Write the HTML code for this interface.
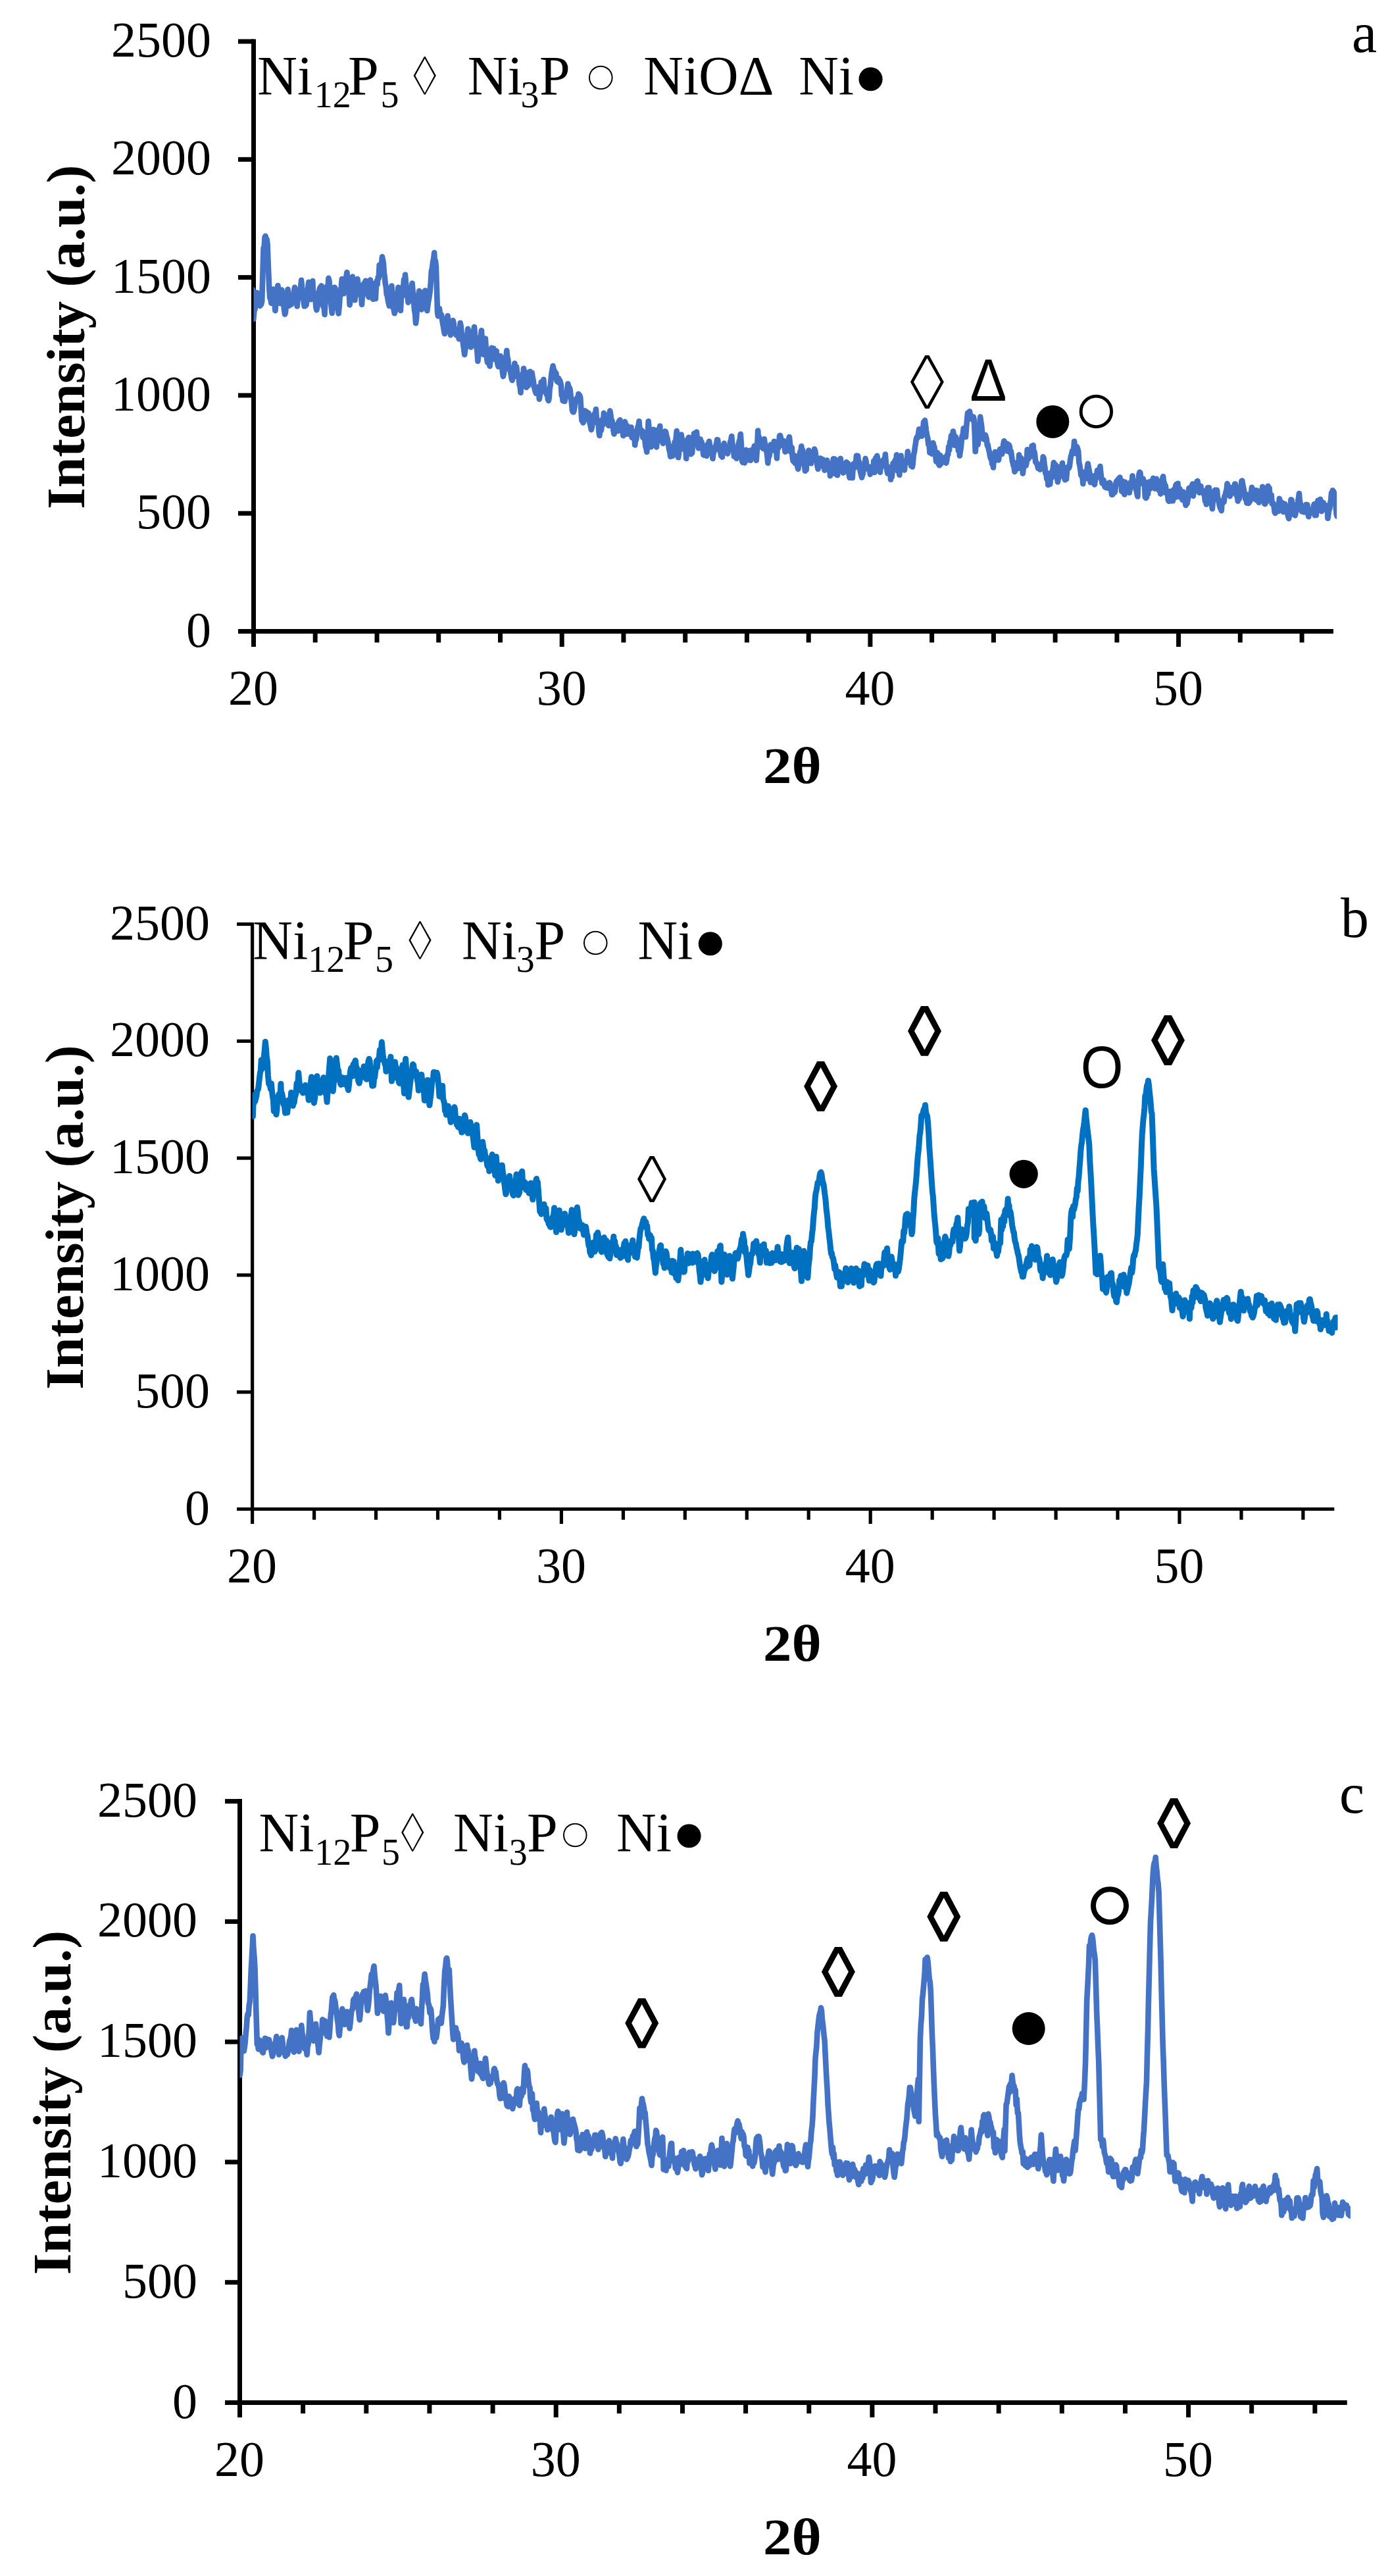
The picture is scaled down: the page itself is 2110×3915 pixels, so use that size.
<!DOCTYPE html>
<html lang="en"><head><meta charset="utf-8"><title>XRD patterns</title>
<style>
html,body{margin:0;padding:0;background:#fff}
svg{display:block}
text{font-family:"Liberation Serif","DejaVu Serif",serif;fill:#000}
.sans{font-family:"Liberation Sans","DejaVu Sans",sans-serif}
</style></head><body>
<svg width="2110" height="3915" viewBox="0 0 2110 3915">
<rect width="2110" height="3915" fill="#fff"/>

<g id="chart-a">
<g stroke="#000" stroke-width="7.0" fill="none">
<line x1="385.5" y1="59.5" x2="385.5" y2="983"/>
<line x1="362" y1="959.5" x2="2027" y2="959.5"/>
<line x1="362" y1="780.2" x2="385.5" y2="780.2"/>
<line x1="362" y1="600.9" x2="385.5" y2="600.9"/>
<line x1="362" y1="421.6" x2="385.5" y2="421.6"/>
<line x1="362" y1="242.3" x2="385.5" y2="242.3"/>
<line x1="362" y1="63" x2="385.5" y2="63"/>
<line x1="479.2" y1="959.5" x2="479.2" y2="976.5"/>
<line x1="573" y1="959.5" x2="573" y2="976.5"/>
<line x1="666.7" y1="959.5" x2="666.7" y2="976.5"/>
<line x1="760.5" y1="959.5" x2="760.5" y2="976.5"/>
<line x1="854.2" y1="959.5" x2="854.2" y2="983"/>
<line x1="947.9" y1="959.5" x2="947.9" y2="976.5"/>
<line x1="1041.7" y1="959.5" x2="1041.7" y2="976.5"/>
<line x1="1135.4" y1="959.5" x2="1135.4" y2="976.5"/>
<line x1="1229.2" y1="959.5" x2="1229.2" y2="976.5"/>
<line x1="1322.9" y1="959.5" x2="1322.9" y2="983"/>
<line x1="1416.6" y1="959.5" x2="1416.6" y2="976.5"/>
<line x1="1510.4" y1="959.5" x2="1510.4" y2="976.5"/>
<line x1="1604.1" y1="959.5" x2="1604.1" y2="976.5"/>
<line x1="1697.9" y1="959.5" x2="1697.9" y2="976.5"/>
<line x1="1791.6" y1="959.5" x2="1791.6" y2="983"/>
<line x1="1885.3" y1="959.5" x2="1885.3" y2="976.5"/>
<line x1="1979.1" y1="959.5" x2="1979.1" y2="976.5"/>
</g>
<clipPath id="clipa"><rect x="385.5" y="23" width="1646.7" height="936.5"/></clipPath>
<path d="M384.2 440.3 L385.4 484.6 L386.5 471.3 L387.5 470.5 L388.5 461.2 L389.6 450.6 L390.6 444.7 L391.5 449.2 L392.4 462.1 L393.3 448.9 L394.2 458.1 L395.1 464.9 L396.1 452.3 L397.1 462.7 L398.2 457.8 L399.4 416.2 L400.6 376.7 L401.6 375.7 L402.6 360.4 L403.6 358.8 L404.6 364.9 L405.6 363.6 L406.6 371.6 L407.5 395.3 L408.4 418.7 L409.3 438.9 L410.3 453 L411.3 452.6 L412.3 460.7 L413.3 452.2 L414.5 449.2 L415.7 439.5 L416.6 452.7 L417.5 459.9 L418.4 472.1 L419.4 460.1 L420.4 448.8 L421.4 440.8 L422.4 434 L423.4 441.4 L424.4 448.6 L425.4 460.6 L426.4 461.1 L427.4 443.7 L428.4 440.6 L429.3 448.3 L430.2 455.4 L431.1 460.6 L432 470.7 L433 477.6 L433.9 475.7 L434.8 465.1 L435.7 461.5 L436.6 454.8 L437.5 439.9 L438.6 450.2 L439.7 464.7 L440.8 461.4 L441.8 453.6 L442.9 462.6 L444 454.5 L445 454.8 L446 454 L447 442.1 L448.1 436.7 L449 440.2 L449.9 446.3 L450.8 450 L451.7 465.5 L452.6 455.2 L453.7 452.8 L454.8 448.3 L455.9 440.2 L457 437.7 L458.1 425.9 L459 436 L459.9 442.2 L460.8 447.3 L461.7 458.9 L462.7 465.3 L463.7 465.2 L464.6 454.9 L465.6 463.5 L466.5 452.8 L467.4 446.2 L468.4 435.1 L469.3 428.7 L470.3 432.3 L471.3 446.8 L472.3 455.1 L473.3 444.7 L474.3 450 L475.3 427.1 L476.3 448.9 L477.3 444.8 L478.3 455 L479.3 452 L480.4 467.4 L481.4 471.2 L482.5 465.9 L483.5 452.8 L484.6 449.5 L485.7 439.5 L486.8 436.6 L487.7 439.3 L488.6 434.4 L489.5 447.2 L490.5 460.7 L491.5 465.9 L492.5 465.9 L493.5 478 L494.5 459.1 L495.5 450.5 L496.5 436 L497.5 436 L498.5 437.1 L499.4 422.9 L500.4 426.6 L501.5 439.5 L502.5 452.5 L503.6 465.4 L504.7 475.9 L505.6 464.6 L506.6 455.9 L507.6 446.5 L508.6 436.7 L509.6 438.2 L510.6 449.3 L511.6 455.3 L512.6 460.6 L513.6 469.6 L514.6 476.5 L515.7 466.4 L516.7 451.5 L517.7 445.6 L518.8 435.9 L519.8 424 L520.8 430.2 L521.8 429.1 L522.7 446.2 L523.7 443.1 L524.6 438.2 L525.5 430.3 L526.4 420.4 L527.4 413.9 L528.4 429.3 L529.4 438.2 L530.4 439.9 L531.6 463.4 L532.8 456.1 L533.8 448.9 L534.8 441.5 L535.8 420.6 L536.7 431.8 L537.6 440.2 L538.5 435.7 L539.5 456.1 L540.4 436.2 L541.4 448.5 L542.4 425.5 L543.4 424.1 L544.3 431.1 L545.2 431.6 L546.1 434.5 L547 434 L548 435.9 L549 448.1 L550 462.8 L551 448.4 L552 442.7 L553 442.5 L553.9 429.9 L554.9 432.1 L555.8 426.8 L556.7 444.4 L557.6 445 L558.5 442.2 L559.6 449.4 L560.7 451.7 L561.8 432.9 L562.9 425.4 L564 435.2 L565 442.6 L566 430.8 L567 454.6 L568.1 448.9 L569.1 451.2 L570 445.2 L570.9 454 L571.8 436.7 L572.7 427 L573.6 432.3 L574.7 421.4 L575.7 423.1 L576.7 402.8 L577.8 404.4 L578.9 402 L579.9 401.9 L581 390.4 L582.1 395.8 L583 401.3 L583.9 415.2 L584.8 421 L585.7 430.4 L586.8 436.3 L587.8 447.6 L588.8 449.9 L589.8 456.4 L590.8 461.2 L591.8 465 L592.7 454.3 L593.6 450.2 L594.5 440.4 L595.4 434.5 L596.6 455.9 L597.9 467.3 L598.8 471.1 L599.7 476.3 L600.6 473 L601.5 455.3 L602.4 462.5 L603.4 454.4 L604.4 445 L605.4 436.8 L606.3 436.9 L607.2 448.8 L608.1 460 L609 471.9 L610 450.5 L611 451 L612 438 L613 438.7 L614 424.8 L615 431.9 L616 417.6 L616.9 428.4 L617.8 436.4 L618.7 441.2 L619.6 451.1 L620.5 459.6 L621.6 456.1 L622.6 452.7 L623.6 448.5 L624.6 442.6 L625.6 440.3 L626.6 430.5 L627.7 444.5 L628.8 454.2 L629.9 470.4 L631 476.8 L632 491.2 L633.1 483 L634.1 466.1 L635.1 457.8 L636.2 449.9 L637.2 442.2 L638.1 443 L639 448.2 L639.9 464.9 L640.8 470.5 L641.9 468.5 L643 453.8 L644.1 455.7 L645.2 452.4 L646.3 441.5 L647.3 451.9 L648.3 460 L649.3 472.1 L650.2 465.4 L651.1 458.7 L652 454.5 L652.9 448.3 L653.8 442.1 L654.8 429 L655.8 412.2 L656.9 408.1 L658.1 398 L659.3 392.6 L660.2 384.1 L661.1 403.9 L662 396.6 L662.9 405.1 L664 439.5 L665 475.2 L666 480.4 L667 476.5 L668 469.1 L669 477.9 L670 478.6 L671 478.5 L672 484.8 L673 491.6 L673.9 495.9 L674.9 502.1 L675.9 507.3 L676.8 497.3 L677.7 494.6 L678.6 484.1 L679.5 486 L680.5 480.1 L681.4 490 L682.3 500.6 L683.2 488.1 L684.1 504.1 L685 509.2 L685.9 503.8 L686.8 495.9 L687.7 491.3 L688.6 487 L689.6 491.1 L690.6 499.7 L691.6 499.8 L692.7 504.8 L693.7 509.4 L694.7 503.7 L695.7 500.9 L696.7 505.7 L697.7 515.1 L698.7 506.1 L699.7 490.8 L700.7 495.6 L701.8 507.3 L702.9 513.4 L704 522 L705.1 530.4 L706.2 538.9 L707.2 531.6 L708.2 527.1 L709.3 512.1 L710.3 509.5 L711.3 499.9 L712.2 503.5 L713.1 509.2 L714 518.4 L714.9 519.6 L715.9 527.6 L716.9 524.5 L717.9 512.2 L718.9 506.6 L720 503.9 L721 496.9 L722.1 509.6 L723.2 514.8 L724.3 526.2 L725.4 534.4 L726.4 548.9 L727.5 537.7 L728.6 528 L729.7 522.1 L730.8 512.8 L731.9 502.4 L732.8 515.1 L733.7 529.4 L734.6 538.6 L735.7 536.6 L736.8 525.5 L737.9 514.5 L739 532.9 L740.1 544.5 L741 550.9 L741.9 550 L742.8 547.7 L743.7 552.2 L744.6 556.5 L745.5 548.2 L746.4 546.1 L747.3 528.8 L748.2 529.3 L749.2 536.6 L750.2 529.5 L751.2 545.7 L752.2 540.2 L753.4 538.3 L754.6 533.4 L755.6 548.3 L756.7 554.6 L757.7 557.2 L758.8 556.4 L759.8 547.4 L760.8 541.1 L761.8 547.6 L762.9 550.6 L763.9 565.2 L764.9 572.1 L766 567.7 L767 555.9 L768.1 552.6 L769.2 544.7 L770.3 532.8 L771.3 543 L772.3 546.2 L773.3 560.7 L774.3 561.6 L775.2 558.1 L776.1 565.9 L777 571.3 L777.9 576.4 L778.8 578 L779.7 564.5 L780.6 559.8 L781.5 559.1 L782.4 552.2 L783.3 572 L784.2 568.7 L785.1 557.6 L786.1 566.4 L787 570 L787.9 571.9 L788.8 575.7 L789.7 585.4 L790.6 587.2 L791.5 596.8 L792.4 581.8 L793.3 569.6 L794.2 573.6 L795.1 572.3 L796 560.1 L797 571.8 L798 564.7 L799 570.6 L800 588.8 L800.9 581.7 L801.9 578.6 L802.9 586 L803.9 579.7 L804.8 566.3 L805.8 564.6 L806.8 566.1 L807.8 571.9 L808.7 566.6 L809.8 574.3 L810.8 578.8 L811.8 587.5 L812.8 591.1 L813.8 595.2 L814.8 597.8 L815.8 595.9 L816.8 596.9 L817.8 598.4 L818.8 587.9 L819.8 606.6 L820.8 600.7 L821.8 595.5 L822.7 580.8 L823.6 581 L824.5 594 L825.4 581.4 L826.3 576.7 L827.2 588.8 L828.1 591.8 L829 596.2 L830 593.2 L831 599.7 L831.9 596.9 L832.9 606.8 L833.9 609 L834.8 604.4 L835.7 590.6 L836.6 586.2 L837.5 576.8 L838.5 567.7 L839.5 561.9 L840.6 556 L841.6 561.2 L842.6 563.7 L843.5 568.3 L844.4 565.9 L845.4 567.4 L846.3 578.4 L847.2 580.2 L848.2 574.9 L849.1 575 L850.1 581.8 L851.1 578.2 L852 581 L852.9 585.4 L853.8 601.2 L854.7 596.9 L855.6 609.1 L856.6 605.1 L857.5 600.5 L858.4 610 L859.3 605.5 L860.2 603.2 L861.3 602 L862.4 590.5 L863.4 583.3 L864.5 588.1 L865.6 588.9 L866.7 592.6 L867.7 601.9 L868.8 611.9 L869.9 623.1 L870.8 625.8 L871.7 626.4 L872.6 624 L873.5 618.6 L874.4 608.5 L875.4 610.2 L876.4 606.1 L877.4 604.5 L878.4 606.4 L879.4 598.7 L880.3 605.4 L881.3 600.9 L882.3 604.5 L883.3 621.6 L884.4 639 L885.4 634 L886.4 642.4 L887.5 640 L888.5 624.4 L889.5 632.3 L890.5 625.1 L891.5 633.7 L892.5 635.8 L893.5 628 L894.6 627.6 L895.6 637.9 L896.7 643.5 L897.8 647.7 L898.9 653.1 L899.9 649.2 L901 639.3 L902 638.4 L903 630.6 L904.1 628.3 L905 637.3 L905.9 622 L906.8 635.2 L907.7 637 L908.6 643.6 L909.5 640.6 L910.4 656.5 L911.3 662.1 L912.2 655.7 L913.1 645.5 L914 653.7 L914.9 645.6 L915.9 637.3 L916.8 645.2 L917.9 627.8 L918.9 630.2 L920 641.6 L921.1 636.8 L922.2 633.8 L923.2 642.6 L924.2 643.1 L925.2 646.9 L926.2 631.5 L927.3 624.4 L928.3 630.5 L929.3 638.6 L930.3 638.8 L931.3 644.5 L932.4 653.8 L933.4 659.6 L934.5 656.7 L935.6 649.5 L936.7 651.1 L937.8 645.4 L938.9 654.2 L939.8 655 L940.7 640.5 L941.6 645.9 L942.5 638.3 L943.5 642.9 L944.4 648.1 L945.4 644.7 L946.4 649.3 L947.3 662.1 L948.2 654.9 L949.1 643.1 L950 640.9 L951.1 646.2 L952.2 659.6 L953.3 647.4 L954.4 656.8 L955.5 659.4 L956.5 652.1 L957.5 658.4 L958.5 649.7 L959.5 649.4 L960.5 664.7 L961.5 665.3 L962.5 656.1 L963.4 663.1 L964.3 659.9 L965.2 676.4 L966.1 668.8 L967 668.4 L967.9 663.3 L968.8 653 L969.7 648.4 L970.6 646.7 L971.5 640.3 L972.4 650.5 L973.3 652.3 L974.3 655.4 L975.2 653.9 L976.2 654.8 L977.2 664.9 L978.2 657.1 L979.2 664.7 L980.2 668.1 L981.3 678 L982.3 681.2 L983.3 686.9 L984.5 663.6 L985.7 640.3 L986.7 651.7 L987.6 662.6 L988.5 668.7 L989.4 679.3 L990.4 671.9 L991.3 662.5 L992.3 655 L993.3 652.8 L994.2 653.2 L995.1 659.5 L996 664.8 L996.9 672.4 L997.9 679.4 L998.8 671.6 L999.7 663.1 L1000.6 659.7 L1001.5 651.8 L1002.4 654.7 L1003.3 647.5 L1004.2 668.7 L1005.1 666.9 L1006 664.4 L1006.9 671.1 L1007.9 673.9 L1008.9 665.4 L1010 667.9 L1011 655.6 L1012 656.4 L1013 661.4 L1014 664.8 L1015 669.1 L1016.1 675 L1017.1 683.3 L1018.1 685.8 L1019.2 693.9 L1020.3 688.4 L1021.4 678.5 L1022.5 692.9 L1023.6 681.4 L1024.6 688.6 L1025.6 671.6 L1026.7 675.8 L1027.7 665.6 L1028.7 655 L1029.9 669.6 L1031.1 695.3 L1032 689.1 L1033 676.1 L1033.9 666.5 L1034.8 664.4 L1035.7 660.5 L1036.7 667.6 L1037.7 672.6 L1038.7 682.3 L1039.6 677.4 L1040.5 680.9 L1041.4 678 L1042.3 680.7 L1043.2 696.9 L1044.2 679.2 L1045.3 667.7 L1046.3 666 L1047.2 664.7 L1048.2 674.3 L1049.2 673.4 L1050.2 690.2 L1051.1 683.4 L1052.1 688.4 L1053 676.3 L1054 667.5 L1055 658.9 L1055.9 668.5 L1056.9 663.7 L1057.9 663.4 L1058.9 656.5 L1059.9 666.9 L1060.9 675.5 L1061.9 681.2 L1062.9 673.3 L1063.8 679.9 L1064.7 667.6 L1065.6 671.4 L1066.5 671.6 L1067.4 678.9 L1068.4 682.3 L1069.3 691.3 L1070.2 691.6 L1071.1 687.7 L1072 691.1 L1073 677.8 L1074 692.9 L1075 677.2 L1076 674.7 L1077 683.1 L1078 670.8 L1079.1 677 L1080.2 682.7 L1081.3 689.4 L1082.4 687.8 L1083.5 696.9 L1084.4 688.9 L1085.4 686.6 L1086.3 684.4 L1087.3 680.4 L1088.2 677.1 L1089.2 674.2 L1090.1 668.4 L1091.1 668.5 L1092.2 678 L1093.2 677.4 L1094.2 684.6 L1095.2 687 L1096.2 692.8 L1097.1 688 L1098 694.6 L1098.9 680.4 L1099.8 686.2 L1100.7 673.9 L1101.8 683.1 L1102.9 682.1 L1104 682.4 L1105.1 685.7 L1106.2 689.4 L1107.2 683.5 L1108.2 683.7 L1109.2 677.3 L1110.2 671.1 L1111.2 668.8 L1112.2 663 L1113.1 672.4 L1114 681.8 L1114.9 679.1 L1115.9 693.8 L1116.8 682.4 L1117.7 692.1 L1118.6 691 L1119.5 696.8 L1120.4 690.3 L1121.5 685.7 L1122.6 675.1 L1123.7 670.8 L1124.8 667.8 L1125.8 659.8 L1126.9 676.6 L1128 700.2 L1129 702.7 L1130 699.2 L1131 692.6 L1132 703.4 L1133 700 L1134 683.9 L1135 688.1 L1136 694.5 L1137 694.9 L1138 687.6 L1139.1 699.3 L1140.1 684.8 L1141 699.7 L1141.9 690.5 L1142.8 688 L1143.7 683.4 L1144.6 686.7 L1145.6 689.4 L1146.7 677.7 L1147.7 684.8 L1148.7 695.8 L1149.7 699.7 L1151 681.5 L1152.2 654.5 L1153.2 669.8 L1154.2 664.8 L1155.2 669.1 L1156.2 673.9 L1157.2 679.5 L1158.2 672.3 L1159.1 674.8 L1160 681.7 L1160.9 679.5 L1161.8 667.2 L1162.9 675 L1164 678.7 L1165.1 685 L1166.2 691.3 L1167.3 703.7 L1168.4 693.3 L1169.5 693.1 L1170.6 685.8 L1171.6 675.8 L1172.7 679.5 L1173.8 677.4 L1174.8 678 L1175.8 682.3 L1176.8 670.9 L1177.8 685 L1178.9 678.4 L1179.9 681.4 L1180.9 696.5 L1181.9 674.3 L1183 681.4 L1184 677.8 L1185 662.3 L1186.1 661.9 L1187.1 666.2 L1188.2 672.5 L1189.3 676.8 L1190.4 669.7 L1191.5 670.6 L1192.6 678.6 L1193.6 686.6 L1194.7 679.2 L1195.7 685.5 L1196.8 677.7 L1197.9 672.6 L1198.9 667.6 L1200 664 L1200.9 674.3 L1201.9 682.1 L1202.8 687.7 L1203.8 680.2 L1204.8 695.9 L1205.7 700.8 L1206.6 691.7 L1207.5 697 L1208.4 703.8 L1209.3 702.6 L1210.3 693.4 L1211.3 701.4 L1212.3 709.1 L1213.3 712.9 L1214.3 706.1 L1215.3 695.5 L1216.3 686.6 L1217.3 687.7 L1218.3 678.2 L1219.3 686 L1220.2 684 L1221.1 705.1 L1222.1 704.5 L1223 706.5 L1223.9 715.8 L1224.8 712 L1225.7 714.1 L1226.6 692.9 L1227.5 696.3 L1228.4 690.9 L1229.3 684.6 L1230.2 696.4 L1231.1 698.4 L1232 693.4 L1233 704.3 L1234 695.7 L1235 699.1 L1236 694.1 L1237.1 686.4 L1238.1 682.5 L1239.2 685.4 L1240.3 693.2 L1241.4 699.2 L1242.5 708.2 L1243.5 712.8 L1244.4 703.5 L1245.4 700.9 L1246.3 696.7 L1247.2 696.5 L1248.1 697.2 L1249 704.4 L1249.9 707.5 L1250.8 698.3 L1251.7 709.7 L1252.6 702.8 L1253.5 714.7 L1254.4 702.8 L1255.3 705.1 L1256.2 709.3 L1257.2 699.5 L1258.1 708.5 L1259.1 711.4 L1260.1 713.6 L1261.1 709.4 L1262 723.2 L1263 718.6 L1263.9 704.4 L1264.9 715 L1265.8 708 L1266.8 697.4 L1267.7 706.2 L1268.7 697.6 L1269.6 720.2 L1270.5 711.3 L1271.4 720.2 L1272.3 721.9 L1273.2 722.2 L1274.1 709.1 L1275 699.2 L1275.9 705.7 L1276.8 701.9 L1277.8 696.9 L1278.8 710.3 L1279.8 705.6 L1280.9 709.2 L1281.9 718.7 L1282.9 716.2 L1283.8 711.2 L1284.8 716.5 L1285.7 704.1 L1286.7 702.3 L1287.6 710.6 L1288.5 707.6 L1289.5 704.6 L1290.4 719.6 L1291.5 726.1 L1292.6 725 L1293.6 719.2 L1294.7 717.6 L1295.8 726.3 L1296.9 706.1 L1298 704.4 L1299 711 L1300 708.2 L1301 702.6 L1302 692.5 L1303 698 L1304.1 692.9 L1305.1 703.1 L1306.1 702.1 L1307.1 713.2 L1308.1 717.3 L1309.1 721.9 L1310.1 725.7 L1311 721.7 L1311.9 720.3 L1312.8 712.8 L1313.7 706.6 L1314.6 705.7 L1315.6 696.9 L1316.5 701.1 L1317.4 707.8 L1318.3 711.8 L1319.2 712.8 L1320.1 709.9 L1321 709.4 L1321.9 711.5 L1322.8 721 L1323.7 718.3 L1324.6 718.2 L1325.5 717.7 L1326.4 714.8 L1327.4 713.5 L1328.3 700.4 L1329.3 718 L1330.3 706.7 L1331.3 695.8 L1332.3 705.1 L1333.3 692.8 L1334.3 698 L1335.2 703.1 L1336.1 715.3 L1337 713.1 L1337.9 717.8 L1338.9 708.8 L1339.8 709.8 L1340.8 705.1 L1341.8 700.1 L1342.8 705.2 L1343.8 697.6 L1344.8 703.9 L1345.8 690.5 L1346.7 701.1 L1347.6 709.5 L1348.5 715.6 L1349.4 719.7 L1350.3 709.7 L1351.3 716.1 L1352.2 720.4 L1353.1 710.6 L1354 728.7 L1354.9 713.5 L1355.8 724.7 L1356.7 715.8 L1357.6 704 L1358.5 709.9 L1359.6 706.1 L1360.8 699.3 L1361.9 703.6 L1363 691.3 L1364.1 699.3 L1365.2 716.5 L1366.2 702 L1367.3 721.8 L1368.5 706.2 L1369.6 692.5 L1370.8 705.9 L1371.9 706.6 L1373.1 707.7 L1374 711.1 L1375 714.4 L1375.9 700.9 L1376.9 704.4 L1377.9 699.2 L1378.8 698.9 L1379.9 686.4 L1381 695.4 L1382.1 700.5 L1383.2 694.3 L1384.1 695.6 L1385.1 708.2 L1386 700 L1386.9 709.4 L1387.8 704.3 L1388.8 691.5 L1389.8 687.9 L1390.9 680.2 L1391.9 673.9 L1392.9 666.7 L1394 664.1 L1395 665.3 L1396.1 659 L1397.1 652.2 L1398.2 657.6 L1399.3 657.4 L1400.2 656 L1401.2 662.8 L1402.1 654.3 L1403.1 652.1 L1404.1 641.3 L1405 646.4 L1406 638.8 L1406.9 645.7 L1408 654.3 L1409.1 661.4 L1410.3 665.7 L1411.4 676 L1412.4 672.4 L1413.4 688 L1414.4 684.5 L1415.5 675 L1416.5 689.8 L1417.5 674.8 L1418.5 673.1 L1419.4 678.2 L1420.3 678.6 L1421.2 687.6 L1422.1 691 L1423.1 701.4 L1424.1 696.4 L1425.1 688 L1426.1 696.1 L1427.1 705.7 L1428.1 707.3 L1429.1 692 L1430.2 704.9 L1431.2 700 L1432.3 697 L1433.3 702 L1434.4 699.8 L1435.4 695.2 L1436.5 700.7 L1437.4 703.1 L1438.4 703.6 L1439.3 699.4 L1440.2 690.5 L1441.2 690.9 L1442.1 678.9 L1443.1 684 L1444.1 671.5 L1445 672.1 L1446 662.1 L1446.9 672.7 L1447.9 662.7 L1448.9 655.5 L1449.9 660.6 L1450.9 676.7 L1451.8 673 L1452.8 663.8 L1453.8 666.8 L1454.8 675.9 L1455.9 674.9 L1456.9 685.1 L1457.9 677.9 L1458.9 692.7 L1459.8 686.5 L1460.8 680 L1461.7 670.9 L1462.6 662.4 L1463.6 663.8 L1464.7 651 L1465.8 655.2 L1466.9 657.1 L1468 664.1 L1469 650.4 L1470 639 L1471.1 627.5 L1472 631.3 L1473 635.7 L1474 625.4 L1474.9 629.8 L1475.9 636.3 L1476.9 634.1 L1477.8 633.7 L1478.8 638.2 L1479.7 633.5 L1480.7 637.9 L1481.7 658.1 L1482.7 686.3 L1483.6 676.4 L1484.6 674.2 L1485.6 674.3 L1486.6 675.7 L1487.5 666.6 L1488.4 659 L1489.3 646 L1490.2 633.6 L1491.2 640.8 L1492.2 647.6 L1493.2 658.9 L1494.2 666.8 L1495.1 667.3 L1496.1 664.7 L1497 668.1 L1497.9 661 L1498.9 664.3 L1499.8 667.9 L1500.8 677.4 L1501.7 675.6 L1502.8 682.4 L1503.9 686.5 L1505 692.9 L1506.1 697.2 L1507.2 695.8 L1508.1 705.1 L1509.1 702.9 L1510 710.5 L1511 689.8 L1511.9 693.5 L1512.9 686.7 L1513.8 699.5 L1514.9 698.4 L1515.9 698.4 L1517 698.7 L1518 699.2 L1519 691 L1520.1 682.6 L1521.1 689.6 L1522.2 688.5 L1523.2 689.9 L1524.2 686 L1525.2 675.9 L1526.3 670.3 L1527.3 677.2 L1528.3 681.9 L1529.3 673.5 L1530.2 681 L1531.2 685.5 L1532.1 675 L1533.1 681.9 L1534.1 676.4 L1535 680 L1535.9 688.4 L1536.9 685.8 L1537.8 692.1 L1538.8 700.1 L1539.7 703.5 L1540.6 708 L1541.6 709.6 L1542.5 716.9 L1543.5 714.8 L1544.4 709.6 L1545.4 703.6 L1546.3 702.7 L1547.2 708.7 L1548.2 711.6 L1549.1 691.3 L1550.1 698.3 L1551 698.9 L1552 695.9 L1552.9 697.3 L1553.9 700.8 L1554.8 719.6 L1555.8 711.4 L1556.7 709.9 L1557.7 706.7 L1558.7 705.2 L1559.7 707.5 L1560.7 702.5 L1561.7 683.2 L1562.8 686.3 L1563.6 697.4 L1564.5 694.9 L1565.5 689.8 L1566.6 686.7 L1567.6 693.3 L1568.6 677.8 L1569.6 685.6 L1570.6 676.8 L1571.5 689.5 L1572.4 686.3 L1573.3 692.5 L1574.2 702 L1575.1 702.1 L1576.1 704.8 L1577.1 706.8 L1578.2 711.8 L1579.2 711.4 L1580.2 711.8 L1581.2 713.6 L1582.1 710.5 L1583 709.6 L1583.9 703.9 L1584.8 708.2 L1585.7 694.3 L1586.6 696.2 L1587.5 704.5 L1588.4 710.5 L1589.3 719.4 L1590.3 717.9 L1591.3 728.3 L1592.3 719 L1593.3 737 L1594.3 725.6 L1595.3 724.4 L1596.3 735.7 L1597.2 719.8 L1598.1 719.2 L1599 726 L1599.9 715.3 L1600.8 712.5 L1601.8 703 L1602.7 705.2 L1603.6 710.8 L1604.5 706.2 L1605.4 709.4 L1606.6 718.2 L1607.8 732.5 L1608.8 727.8 L1609.9 725.2 L1610.9 719.4 L1611.9 709.1 L1613 708.7 L1614 716.9 L1615 703.9 L1616 716 L1617 717.4 L1618 726 L1619 729.3 L1620 725.5 L1621 728.3 L1622 715.7 L1623 709.8 L1624 712.1 L1625.1 711.1 L1626 708 L1627 699.3 L1628 693.3 L1629 690.5 L1630 685.4 L1631 687.6 L1632.1 683.6 L1633.1 670.8 L1634.1 681.2 L1635.2 689.1 L1636.2 684.8 L1637.2 679.1 L1638.2 682.2 L1639.3 686.4 L1640.3 702.9 L1641.3 707 L1642.3 713.7 L1643.3 722 L1644.3 723.5 L1645.3 720.7 L1646.3 735.3 L1647.3 717.7 L1648.4 725.8 L1649.4 721 L1650.5 722.4 L1651.6 727.4 L1652.7 712 L1653.8 704.7 L1654.8 710 L1655.8 715.7 L1656.8 720.3 L1657.8 733.3 L1658.8 723.6 L1659.8 723.8 L1660.9 725.8 L1661.9 726.4 L1662.9 723.3 L1663.9 736.4 L1664.9 729.8 L1665.9 727.1 L1667 723.1 L1668.1 714.7 L1669.2 714.3 L1670.3 713.7 L1671.3 724.4 L1672.4 708.9 L1673.4 719.1 L1674.4 728 L1675.5 734.6 L1676.5 731.1 L1677.5 729.6 L1678.5 732.8 L1679.5 740 L1680.5 740.9 L1681.5 735.1 L1682.5 737.6 L1683.5 741.6 L1684.5 735.8 L1685.5 740.3 L1686.5 733.5 L1687.4 734.3 L1688.3 743.2 L1689.2 745 L1690.1 751.7 L1691.1 751.7 L1692.1 745.3 L1693.1 745 L1694.1 748.8 L1695.1 747.2 L1696.2 736 L1697.1 731.9 L1698 730.7 L1698.9 729.6 L1699.8 729.2 L1700.7 727.3 L1701.6 727.8 L1702.5 725.5 L1703.4 732.9 L1704.3 731.4 L1705.2 746.8 L1706.2 746.2 L1707.3 731.8 L1708.3 739.7 L1709.3 751.5 L1710.3 732.9 L1711.3 744.9 L1712.2 745.1 L1713.1 739.2 L1714 738.7 L1714.9 747.8 L1715.8 740.7 L1716.7 748.8 L1717.6 744.2 L1718.5 733.2 L1719.5 733.1 L1720.4 736.6 L1721.5 723.4 L1722.5 735.3 L1723.6 737.6 L1724.7 735.8 L1725.8 735.7 L1726.7 744.1 L1727.6 745.2 L1728.5 751 L1729.4 754.5 L1730.5 730 L1731.6 720.4 L1732.5 717.5 L1733.5 719 L1734.5 734.5 L1735.5 727 L1736.6 728.7 L1737.7 727.6 L1738.8 731.9 L1739.8 736.6 L1740.9 755.8 L1742 756.9 L1743 755.9 L1744 740.6 L1745.1 750.8 L1746.1 732.6 L1747.1 732.4 L1748.1 740 L1749.1 742.5 L1750.1 735.1 L1751.1 734.4 L1752.1 729.3 L1753.1 726.8 L1754.2 738.3 L1755.2 740.7 L1756.1 742.7 L1757.1 739.9 L1758.1 727.9 L1759.1 730.7 L1760.1 733.9 L1761.1 732.3 L1762.1 745.6 L1763.1 736.7 L1764.2 750.6 L1765.2 747.6 L1766.2 734.6 L1767.3 727 L1768.2 724 L1769.1 734.4 L1770 733.7 L1770.9 748.7 L1771.8 738.3 L1772.8 745.6 L1773.8 749.4 L1774.8 748.3 L1775.8 759.6 L1776.8 761.8 L1777.9 759.9 L1778.9 746.7 L1779.9 761.3 L1780.9 750.2 L1781.9 750.2 L1782.9 761.2 L1783.9 744.5 L1784.8 749.8 L1785.7 756.5 L1786.6 741.3 L1787.5 737.2 L1788.4 735.9 L1789.5 738.9 L1790.5 734.8 L1791.5 755 L1792.5 748.2 L1793.5 743 L1794.5 755 L1795.5 755.4 L1796.5 753.6 L1797.5 759.7 L1798.5 747.6 L1799.5 760.3 L1800.5 749.3 L1801.6 762.4 L1802.6 768 L1803.6 764.4 L1804.5 765.3 L1805.5 760.4 L1806.4 754.4 L1807.4 741.9 L1808.3 751.4 L1809.2 742.3 L1810.2 747.4 L1811.1 743.4 L1812 737.9 L1813 735.5 L1813.9 753.7 L1814.8 747.4 L1815.7 741 L1816.7 739.4 L1817.6 739.3 L1818.6 738.4 L1819.6 731.6 L1820.5 731 L1821.4 736.8 L1822.3 745.7 L1823.2 748.8 L1824.2 745 L1825.3 738.8 L1826.3 746.9 L1827.3 744.4 L1828.3 747.5 L1829.3 750 L1830.2 746.6 L1831.1 753.1 L1832 761.9 L1832.9 752.1 L1833.8 766.4 L1834.8 750.7 L1835.8 741.4 L1836.8 745.9 L1837.8 741 L1838.8 749.4 L1839.8 750.8 L1840.8 752.9 L1841.9 764.5 L1842.9 773.3 L1843.9 761.1 L1844.9 754.3 L1845.9 759.2 L1846.9 744.9 L1847.9 752.1 L1849 745.8 L1850 744.9 L1850.9 754 L1851.9 759.2 L1852.9 762.7 L1853.9 768.5 L1854.9 771.8 L1855.9 773.6 L1856.8 776.2 L1857.7 762.6 L1858.6 760.9 L1859.5 763.6 L1860.6 763 L1861.6 753.8 L1862.6 753.5 L1863.6 747.3 L1864.6 744.9 L1865.6 735 L1866.6 738.5 L1867.6 741.9 L1868.6 740.2 L1869.6 754.1 L1870.6 751.6 L1871.6 745.8 L1872.6 749.8 L1873.5 744.1 L1874.4 740.5 L1875.3 745.4 L1876.2 744 L1877.1 735.5 L1878 735.7 L1878.9 749.2 L1879.8 753.4 L1880.7 746.1 L1881.7 761.6 L1882.7 754.9 L1883.8 758.3 L1884.7 751.3 L1885.6 739.9 L1886.5 747.5 L1887.4 731.3 L1888.3 730.5 L1889.3 736.9 L1890.3 741.2 L1891.3 746.7 L1892.3 751 L1893.3 758.8 L1894.3 751.3 L1895.3 764.4 L1896.2 757.7 L1897.2 761 L1898.1 764.8 L1899.1 751.6 L1900 762.2 L1901 750 L1901.9 751 L1902.9 740.8 L1903.9 747.5 L1904.9 744.4 L1905.9 752.9 L1906.9 758.3 L1908 745 L1908.9 747.4 L1909.8 759.9 L1910.8 745.5 L1911.7 758.3 L1912.7 759.6 L1913.6 763.7 L1914.6 758.7 L1915.5 746.8 L1916.4 755.3 L1917.3 750 L1918.2 760.2 L1919.2 739.7 L1920.1 744.2 L1921.1 753.9 L1922.1 765.6 L1923.1 765.9 L1924 757.7 L1924.9 762.9 L1925.8 750.6 L1926.7 750 L1927.6 738.9 L1928.6 755.3 L1929.6 741.7 L1930.7 757.7 L1931.7 758.2 L1932.7 752.3 L1933.7 765.6 L1934.7 764.3 L1935.7 765 L1936.7 770.1 L1937.7 778.2 L1938.6 779.9 L1939.6 778.2 L1940.6 772.7 L1941.7 776.6 L1942.7 775.9 L1943.7 776.8 L1944.8 757.7 L1945.8 760.4 L1946.8 764.1 L1947.8 772.9 L1948.9 764.1 L1949.9 776.3 L1950.9 778 L1951.9 776.8 L1953 765.8 L1954 769.7 L1955.1 770 L1956.1 776.7 L1957.2 780.4 L1958.2 784.8 L1959.3 788.1 L1960.4 778.8 L1961.4 771.1 L1962.5 759.4 L1963.5 759.7 L1964.6 767.7 L1965.7 768.2 L1966.7 782.1 L1967.8 777.3 L1968.8 783.4 L1969.8 778.6 L1970.9 773 L1971.9 768.3 L1972.9 764.2 L1973.9 757.2 L1974.9 750 L1975.8 760.3 L1976.8 765.3 L1977.7 768.2 L1978.7 777.1 L1979.7 776.1 L1980.7 777.8 L1981.7 774.3 L1982.7 778.4 L1983.7 770.8 L1984.7 770.4 L1985.6 766.8 L1986.5 771.4 L1987.4 767.3 L1988.4 780.5 L1989.3 785.2 L1990.3 775.3 L1991.4 775.9 L1992.4 779.7 L1993.5 779.3 L1994.6 777.3 L1995.6 778.3 L1996.7 769.7 L1997.7 766.4 L1998.8 783.2 L1999.8 773.1 L2000.8 782.9 L2001.7 767.7 L2002.6 763.1 L2003.5 760.6 L2004.4 764.7 L2005.3 770 L2006.2 770.5 L2007.1 758.8 L2008 762.7 L2008.9 777.1 L2009.9 773.6 L2010.8 772.1 L2011.8 763.9 L2012.7 766.8 L2013.7 773.7 L2014.7 768.1 L2015.6 774.8 L2016.6 773.4 L2017.6 768.9 L2018.5 787.8 L2019.5 781.1 L2020.4 774.6 L2021.3 773.1 L2022.2 764.7 L2023.1 760.3 L2024.1 749 L2025 756.5 L2025.9 745.4 L2026.8 746.2 L2027.7 759.6 L2028.6 749.5 L2029.6 762 L2030.6 769.6 L2031.6 781.2 L2032.5 784.5 L2033.4 782.9 L2034.3 769.5 L2035.2 773.4 L2036.2 770.8" fill="none" stroke="#4472C4" stroke-width="8.6" stroke-linejoin="round" stroke-linecap="round" clip-path="url(#clipa)"/>
<g font-size="76" text-anchor="end">
<text x="321" y="982.5">0</text>
<text x="321" y="803.2">500</text>
<text x="321" y="623.9">1000</text>
<text x="321" y="444.6">1500</text>
<text x="321" y="265.3">2000</text>
<text x="321" y="86">2500</text>
</g>
<g font-size="76" text-anchor="middle">
<text x="385" y="1071">20</text>
<text x="853.7" y="1071">30</text>
<text x="1322.4" y="1071">40</text>
<text x="1791.1" y="1071">50</text>
</g>
<g transform="translate(1204.5 1190.1) scale(1.06 0.955)"><text x="0" y="0" font-size="82" font-weight="bold" text-anchor="middle">2θ</text></g>
<text transform="translate(128 512.2) rotate(-90) scale(1.015 1)" font-size="82.5" font-weight="bold" text-anchor="middle">Intensity (a.u.)</text>
</g>
<g id="chart-b">
<g stroke="#000" stroke-width="5.2" fill="none">
<line x1="383.6" y1="1401.9" x2="383.6" y2="2316"/>
<line x1="360" y1="2293.5" x2="2028.4" y2="2293.5"/>
<line x1="360" y1="2115.7" x2="383.6" y2="2115.7"/>
<line x1="360" y1="1937.9" x2="383.6" y2="1937.9"/>
<line x1="360" y1="1760.1" x2="383.6" y2="1760.1"/>
<line x1="360" y1="1582.3" x2="383.6" y2="1582.3"/>
<line x1="360" y1="1404.5" x2="383.6" y2="1404.5"/>
<line x1="477.6" y1="2293.5" x2="477.6" y2="2309.7"/>
<line x1="571.5" y1="2293.5" x2="571.5" y2="2309.7"/>
<line x1="665.5" y1="2293.5" x2="665.5" y2="2309.7"/>
<line x1="759.4" y1="2293.5" x2="759.4" y2="2309.7"/>
<line x1="853.4" y1="2293.5" x2="853.4" y2="2316"/>
<line x1="947.4" y1="2293.5" x2="947.4" y2="2309.7"/>
<line x1="1041.3" y1="2293.5" x2="1041.3" y2="2309.7"/>
<line x1="1135.3" y1="2293.5" x2="1135.3" y2="2309.7"/>
<line x1="1229.2" y1="2293.5" x2="1229.2" y2="2309.7"/>
<line x1="1323.2" y1="2293.5" x2="1323.2" y2="2316"/>
<line x1="1417.2" y1="2293.5" x2="1417.2" y2="2309.7"/>
<line x1="1511.1" y1="2293.5" x2="1511.1" y2="2309.7"/>
<line x1="1605.1" y1="2293.5" x2="1605.1" y2="2309.7"/>
<line x1="1699" y1="2293.5" x2="1699" y2="2309.7"/>
<line x1="1793" y1="2293.5" x2="1793" y2="2316"/>
<line x1="1887" y1="2293.5" x2="1887" y2="2309.7"/>
<line x1="1980.9" y1="2293.5" x2="1980.9" y2="2309.7"/>
</g>
<clipPath id="clipb"><rect x="383.6" y="1364.5" width="1650" height="929"/></clipPath>
<path d="M383.6 1690.2 L384.4 1696.6 L385.1 1675.2 L386 1676.8 L386.9 1663.9 L387.9 1673.7 L388.8 1669.4 L389.7 1666.8 L390.7 1658.6 L391.7 1656.9 L392.7 1654.1 L393.6 1646.1 L394.5 1638.1 L395.4 1630.6 L396.3 1627.2 L397.2 1610.9 L398.2 1624.8 L399.2 1616.8 L400.3 1614.2 L401.3 1605.8 L402.3 1595.8 L403.3 1583.3 L404.3 1592.5 L405.3 1605.6 L406.3 1612.3 L407.5 1635.1 L408.7 1647.2 L409.6 1648.8 L410.5 1649.9 L411.5 1655.4 L412.4 1646.7 L413.4 1657.8 L414.4 1666.1 L415.4 1671.9 L416.3 1688.8 L417.2 1688.4 L418.1 1683.3 L419 1673.2 L419.9 1693.7 L420.9 1687.6 L421.9 1667.9 L423 1666.1 L423.9 1662.9 L424.9 1663.8 L425.9 1664.6 L426.9 1647.2 L427.8 1670.7 L428.7 1662 L429.6 1666.6 L430.5 1676.9 L431.5 1679.5 L432.5 1681.2 L433.5 1691.4 L434.6 1686.1 L435.7 1673.1 L436.8 1690.9 L437.9 1679.7 L439 1677.8 L439.9 1674 L440.8 1670.1 L441.7 1676.6 L442.6 1660.4 L443.5 1666.8 L444.4 1662.4 L445.3 1680.6 L446.2 1675.9 L447.2 1675.7 L448.1 1668.2 L449.1 1664.8 L450.1 1660.6 L451.1 1646.1 L452 1653.3 L452.9 1645.9 L453.8 1630.5 L454.8 1642.6 L455.8 1649.3 L456.8 1656.4 L457.7 1657.7 L458.7 1655.9 L459.6 1651.8 L460.5 1661.1 L461.4 1654.7 L462.3 1655.8 L463.2 1655.7 L464.1 1649.3 L465 1655.9 L465.9 1651.6 L466.8 1660.1 L468 1659.4 L469.2 1671.9 L470.3 1662.6 L471.4 1657.1 L472.4 1645.4 L473.5 1636.8 L474.5 1649.2 L475.4 1659.3 L476.4 1671.6 L477.4 1676.3 L478.3 1671.1 L479.2 1664 L480.1 1655.9 L481 1646.2 L482 1635.5 L482.9 1644.4 L483.8 1644.6 L484.7 1654.4 L485.6 1654.1 L486.5 1660.9 L487.6 1654.4 L488.7 1653.3 L489.8 1645.4 L490.8 1642.3 L491.9 1637.6 L493 1643.7 L494 1653.1 L495 1661.6 L496.1 1664.5 L497.1 1674.7 L498 1661.4 L498.9 1648 L499.8 1633.3 L500.7 1621 L501.7 1608.4 L502.7 1611.4 L503.7 1613.4 L504.9 1635.4 L506.2 1658.4 L507.2 1647.4 L508.2 1638.7 L509.2 1623.8 L510.3 1614.3 L511.3 1608 L512.4 1617.4 L513.5 1626.7 L514.6 1626.9 L515.5 1636.7 L516.4 1642.1 L517.4 1646.4 L518.3 1648.6 L519.3 1642 L520.3 1637.6 L521.3 1640.4 L522.3 1647.5 L523.3 1638.3 L524.3 1640.9 L525.3 1648.3 L526.4 1639.9 L527.4 1638.1 L528.4 1651.8 L529.5 1656.8 L530.6 1647.8 L531.7 1635.7 L532.8 1626.6 L533.8 1623 L534.9 1632.1 L536 1635.4 L537 1617.5 L538.1 1625.3 L539.2 1614.6 L540.3 1611.7 L541.3 1621.6 L542.3 1622.6 L543.2 1628 L544.2 1640.2 L545.1 1643.9 L546.1 1646.2 L547.1 1641.6 L548.1 1636.1 L549 1629.6 L550 1626.5 L551 1627.3 L552 1632.8 L553.1 1620.8 L554.1 1637.2 L555.1 1632.6 L556.1 1632.7 L557.1 1640.3 L558.1 1632.6 L559.1 1619.2 L560.1 1612.3 L561.1 1609.3 L562.1 1612.2 L563 1627.4 L563.9 1635.1 L564.9 1642.3 L565.8 1650.3 L566.7 1645.8 L567.7 1649.8 L568.7 1637.6 L569.7 1637.6 L570.6 1629.2 L571.5 1622.3 L572.4 1612.4 L573.3 1622.2 L574.2 1610.5 L575.2 1612.1 L576.3 1607.7 L577.3 1595.8 L578.3 1603.5 L579.3 1599.9 L580.3 1583.8 L581.3 1595.3 L582.3 1604.6 L583.3 1611.8 L584.2 1611.8 L585.1 1617.6 L586 1614.1 L586.9 1628.4 L587.9 1621.7 L588.9 1615.2 L589.9 1624.7 L590.9 1623.9 L591.9 1611.7 L592.9 1614.7 L593.9 1606.1 L594.7 1623.6 L595.4 1643.1 L596.4 1629.1 L597.4 1635.5 L598.4 1638.4 L599.5 1625.6 L600.5 1614 L601.5 1622.4 L602.5 1622.3 L603.5 1627 L604.5 1637.5 L605.5 1640.1 L606.5 1645.1 L607.5 1646.4 L608.4 1641.3 L609.3 1635.6 L610.2 1628.7 L611.1 1625.1 L612.1 1618.4 L613.3 1645.1 L614.5 1661.8 L615.5 1636.2 L616.6 1609.3 L617.5 1622.6 L618.4 1636 L619.3 1640.3 L620.2 1651.7 L621.1 1667.3 L622.2 1657.5 L623.3 1648.6 L624.4 1639.7 L625.5 1630.8 L626.6 1624.4 L627.6 1617.5 L628.6 1618.6 L629.6 1626.3 L630.6 1635.2 L631.6 1634.9 L632.6 1628.4 L633.5 1631.5 L634.4 1642.2 L635.4 1646.1 L636.3 1657.3 L637.2 1654.3 L638.1 1638.9 L639 1642.8 L639.9 1640.8 L640.8 1633.1 L641.7 1641.7 L642.6 1644.8 L643.5 1654 L644.4 1657.7 L645.3 1672.5 L646.2 1649.4 L647.2 1648.8 L648.1 1649.4 L649 1646 L649.9 1641.5 L650.9 1657 L651.9 1668.9 L652.9 1679.7 L654 1671 L655.1 1663.3 L656.2 1649.8 L657.3 1640.8 L658.4 1639.2 L659.3 1629.4 L660.3 1633.1 L661.2 1629.8 L662.2 1632.2 L663.1 1637.4 L664.1 1630.3 L665 1633.7 L666 1641.9 L667 1653.5 L668 1666.3 L668.9 1662.6 L669.8 1666.7 L670.8 1663.7 L671.7 1664.7 L672.6 1650.2 L673.6 1669.7 L674.6 1673.5 L675.6 1676.8 L676.5 1688.4 L677.5 1686.8 L678.4 1694.2 L679.4 1689.2 L680.3 1682.2 L681.3 1681 L682.2 1694.3 L683.2 1695.3 L684.2 1697.4 L685.2 1705.5 L686.2 1701.1 L687.1 1692.2 L688 1688.4 L688.9 1691.2 L689.8 1684 L690.7 1682.6 L691.6 1685.6 L692.5 1698.3 L693.4 1703.2 L694.4 1709.3 L695.3 1707.1 L696.3 1712.7 L697.3 1713.3 L698.3 1700.3 L699.2 1712 L700.1 1703 L701 1716.6 L701.9 1721 L702.8 1720.1 L703.7 1718.6 L704.6 1711.5 L705.6 1703.5 L706.5 1695 L707.4 1698.1 L708.4 1707.5 L709.4 1713 L710.4 1717.3 L711.3 1722.2 L712.2 1718 L713.1 1720.9 L714 1712.4 L714.9 1705.4 L715.9 1709.9 L716.9 1717.3 L718 1722.3 L719 1727.7 L720 1735.5 L721 1743.8 L721.9 1734.7 L722.8 1722.3 L723.7 1718.1 L724.6 1709.6 L725.8 1726.4 L727 1746.5 L728 1754.8 L729.1 1748.7 L730.1 1759.8 L731 1761.9 L731.9 1744.9 L732.8 1750.5 L733.7 1735.5 L734.6 1742.3 L735.6 1752.7 L736.6 1748.4 L737.5 1755.1 L738.5 1758.9 L739.6 1763.3 L740.6 1770.7 L741.6 1773.1 L742.6 1765.2 L743.7 1780 L744.6 1775.2 L745.5 1772.4 L746.4 1764.3 L747.3 1757.9 L748.2 1754.6 L749.1 1760.8 L750 1767.9 L750.9 1774.1 L751.8 1778.1 L752.8 1786.4 L753.5 1773.6 L754.3 1758 L755.3 1773.1 L756.3 1779.5 L757.3 1794.4 L758.3 1791.2 L759.3 1790.8 L760.3 1783.3 L761.3 1779.5 L762.3 1771.2 L763.3 1771 L764.3 1781.8 L765.2 1785.3 L766.1 1794.8 L767 1800.8 L767.9 1808.3 L768.9 1815 L769.9 1812.7 L770.9 1793.7 L771.9 1793.9 L772.9 1794.3 L773.9 1792.2 L774.5 1787.2 L775.5 1794.4 L776.6 1799.5 L777.6 1803.3 L778.6 1804.6 L779.6 1815.1 L780.6 1816.9 L781.5 1813.9 L782.4 1809.2 L783.3 1801.7 L784.2 1793.3 L785.1 1784.7 L786 1793.9 L786.9 1808.5 L787.9 1816.3 L788.8 1814.1 L789.7 1812.6 L790.7 1790.2 L791.7 1788.9 L792.7 1781.9 L793.7 1780.2 L794.7 1801.1 L795.7 1800.8 L796.7 1796 L797.7 1805.4 L798.7 1797.8 L799.7 1808.6 L800.6 1799.6 L801.5 1807.3 L802.4 1806.1 L803.3 1808.8 L804.2 1813.3 L805.1 1813.7 L806 1808.4 L806.9 1798.1 L807.8 1807.1 L808.8 1811.8 L809.8 1823.1 L810.8 1809.9 L811.8 1815.3 L812.7 1812.9 L813.6 1809.7 L814.5 1795.1 L815.5 1791.4 L816.4 1803 L817.4 1796.7 L818.4 1809.4 L819.6 1825.5 L820.8 1841.6 L821.9 1842.2 L822.9 1845.2 L823.9 1832.7 L824.9 1841.5 L826 1839.7 L827 1830.3 L828 1841.5 L829 1839.9 L830 1836.6 L831 1852.5 L832 1854.5 L833.1 1852.6 L834.1 1860.1 L835.1 1855.2 L836.1 1863.9 L837.2 1865 L838.3 1858.1 L839.3 1851.3 L840.4 1849.2 L841.5 1846.7 L842.6 1835.8 L843.6 1847.4 L844.6 1861.6 L845.6 1872.5 L846.6 1865.8 L847.5 1859.9 L848.4 1857.3 L849.3 1849.7 L850.2 1839.4 L851.2 1850.4 L852.2 1856.5 L853.2 1869.1 L854.3 1863.5 L855.4 1857.2 L856.5 1855 L857.6 1844.9 L858.7 1844.5 L859.6 1850.9 L860.6 1850 L861.5 1861.4 L862.5 1861.5 L863.4 1865.3 L864.4 1873.7 L865.4 1868.8 L866.3 1859.6 L867.3 1848.8 L868.3 1847.4 L869.2 1838.8 L870.2 1847.4 L871.1 1861.5 L872 1870.6 L872.9 1875.7 L873.8 1870.7 L874.7 1861.6 L875.6 1852.8 L876.5 1844.3 L877.4 1834.9 L878.4 1842.3 L879.4 1853.3 L880.4 1855.9 L881.3 1864.8 L882.4 1867.3 L883.4 1864.1 L884.4 1865.1 L885.5 1861.7 L886.5 1870.1 L887.5 1876.5 L888.5 1868 L889.4 1871.4 L890.4 1864.3 L891.3 1868.7 L892.2 1876.9 L893.1 1877.8 L894.1 1887.5 L895 1893.3 L895.9 1891.6 L896.8 1903.5 L897.7 1904.7 L898.6 1907.8 L899.5 1899.4 L900.4 1902.6 L901.3 1888.6 L902.2 1891.4 L903.1 1893.1 L904.2 1902.2 L905.3 1898.1 L906.4 1876.6 L907.5 1884.3 L908.6 1873.2 L909.6 1878.2 L910.6 1886.1 L911.6 1891.1 L912.6 1896.7 L913.6 1900.5 L914.6 1902.7 L915.5 1898 L916.4 1892.6 L917.4 1889.2 L918.3 1880.8 L919.2 1885.3 L920.1 1896.3 L921 1890 L921.9 1885.3 L922.8 1906.3 L923.8 1908 L924.9 1910.5 L925.9 1902.4 L926.9 1912.5 L927.9 1906 L928.9 1893.5 L929.9 1897.2 L930.9 1886.8 L931.9 1889.7 L932.8 1879.2 L933.7 1893.5 L934.6 1886.2 L935.5 1895.6 L936.4 1893.8 L937.3 1907.4 L938.2 1905.5 L939.1 1903.6 L940 1899.4 L941 1900.6 L942 1903.7 L943 1911.7 L943.9 1906 L944.9 1910 L945.9 1909.7 L946.9 1897.5 L948 1896.6 L949 1889.4 L950 1898.7 L950.9 1886.5 L951.8 1894.7 L952.8 1910.5 L953.7 1895.2 L954.6 1914.7 L955.5 1898.7 L956.4 1906.2 L957.3 1903.2 L958.2 1893.8 L959.1 1891.9 L960 1897.6 L960.9 1894.8 L961.8 1885 L962.7 1895 L963.6 1895.8 L964.6 1895.9 L965.5 1910.2 L966.4 1907.3 L967.3 1900.8 L968.2 1911.4 L969.1 1904.1 L970 1896.5 L970.9 1895.8 L971.8 1884.8 L972.7 1876.1 L973.9 1867.2 L975.1 1866.9 L976.1 1860.6 L977.1 1857.8 L978 1853.8 L979 1851.9 L979.9 1863.2 L980.9 1858.7 L981.9 1857.1 L982.9 1865.7 L983.8 1863.1 L984.8 1877.2 L985.7 1874.2 L986.6 1882.8 L987.5 1878.4 L988.5 1877.4 L989.4 1885.5 L990.4 1881.3 L991.4 1899.8 L992.4 1900.6 L993.4 1912.5 L994.4 1915.2 L995.3 1924.4 L996.3 1934.4 L997.2 1924.9 L998.1 1919 L999 1913.8 L1000 1908.9 L1000.9 1907 L1001.8 1902.6 L1002.7 1897.7 L1003.6 1893.2 L1004.5 1892.6 L1005.4 1903.4 L1006.3 1905.7 L1007.2 1909.7 L1008.1 1920.8 L1009 1917.1 L1010 1926.9 L1011 1913.9 L1012.1 1901.7 L1013.1 1904.4 L1014.1 1912.3 L1015.1 1914.4 L1016.1 1919 L1017.1 1922.5 L1018.1 1927.1 L1019.1 1918.1 L1020.1 1917.3 L1021.1 1934 L1022.1 1916.3 L1023.2 1924 L1024.2 1917.1 L1025.1 1935.8 L1026.1 1934.9 L1027 1928.8 L1027.9 1942.6 L1028.9 1931.1 L1029.8 1930.8 L1030.8 1945.9 L1031.7 1938.7 L1032.7 1928.9 L1033.7 1915.9 L1034.8 1899.6 L1035.7 1910.9 L1036.6 1924.1 L1037.5 1915.2 L1038.4 1918.7 L1039.3 1933.3 L1040.3 1932.6 L1041.3 1919.4 L1042.3 1919.9 L1043.3 1915 L1044.3 1913.9 L1045.3 1905 L1046.3 1919.9 L1047.4 1906.1 L1048.4 1915.8 L1049.4 1912.2 L1050.4 1909.6 L1051.4 1916.8 L1052.3 1919.2 L1053.2 1905.4 L1054.1 1914.9 L1055 1910.2 L1055.9 1918 L1057 1914.3 L1058 1917.3 L1059 1912.3 L1060 1904.5 L1061.1 1906.9 L1062.1 1914.9 L1063 1930.1 L1064 1937.4 L1065 1948.3 L1066 1941.2 L1067 1939.4 L1068 1933.3 L1069 1932.1 L1070.1 1925.8 L1071.1 1914.6 L1072.1 1934.7 L1073.1 1925.5 L1074.1 1930.6 L1075.2 1936.8 L1076.2 1942.5 L1077.3 1932.6 L1078.4 1927.9 L1079.5 1920.5 L1080.6 1919.5 L1081.6 1909.1 L1082.6 1906.7 L1083.5 1911.3 L1084.4 1915.8 L1085.3 1927.6 L1086.2 1931.9 L1087.1 1928.9 L1088 1927.6 L1088.9 1917.1 L1089.8 1913.3 L1090.7 1901.6 L1091.6 1901.8 L1092.5 1904.5 L1093.4 1904.7 L1094.4 1894.2 L1095.3 1892.9 L1096 1918.3 L1096.8 1948.2 L1097.7 1938.3 L1098.6 1934.5 L1099.5 1923.6 L1100.4 1910.9 L1101.3 1906.6 L1102.3 1916.1 L1103.3 1927.7 L1104.3 1926.4 L1105.2 1937.2 L1106.2 1918.6 L1107.1 1918.1 L1108 1926.2 L1108.9 1908.8 L1109.8 1917.7 L1110.7 1920.9 L1111.6 1929.7 L1112.5 1934.6 L1113.4 1943.3 L1114.3 1934.3 L1115.2 1926.6 L1116.1 1915 L1117 1911.2 L1118 1904.8 L1118.9 1904.2 L1119.8 1907.6 L1120.7 1909.3 L1121.6 1912.8 L1122.5 1907.5 L1123.5 1901.7 L1124.5 1898.6 L1125.5 1896.7 L1126.5 1891.4 L1127.5 1883.2 L1128.5 1886.7 L1129.5 1875.3 L1130.4 1881.7 L1131.3 1884.7 L1132.2 1903.2 L1133.1 1895.8 L1134 1904.2 L1134.9 1910 L1135.8 1921.2 L1136.7 1927.8 L1137.6 1937.9 L1138.6 1931.9 L1139.6 1924.1 L1140.7 1920 L1141.7 1910.4 L1142.7 1905.4 L1143.7 1905.8 L1144.7 1901.1 L1145.7 1890 L1146.7 1901.8 L1147.7 1888.8 L1148.7 1896.3 L1149.7 1886.2 L1150.6 1892.2 L1151.5 1894.8 L1152.5 1900.9 L1153.4 1906.7 L1154.3 1906.6 L1155.3 1919.1 L1156.3 1903.6 L1157.3 1900 L1158.3 1893.4 L1159.3 1898.5 L1160.3 1898.1 L1161.3 1890.9 L1162.3 1904.6 L1163.3 1907.8 L1164.4 1900.9 L1165.4 1919.1 L1166.4 1905.6 L1167.3 1911.5 L1168.2 1912.9 L1169.1 1916.5 L1170 1919.7 L1171 1918.5 L1172 1915.4 L1173 1919.2 L1174 1904.6 L1175 1907.2 L1176.1 1909.9 L1177.1 1914.8 L1178.1 1911.2 L1179.1 1915.3 L1180.1 1907.5 L1181.1 1905.2 L1182.1 1895.1 L1183.1 1902.9 L1184.1 1908.1 L1185.1 1905.1 L1186.1 1917.5 L1187.1 1910.8 L1188.2 1918 L1189.2 1906.2 L1190.3 1909.5 L1191.4 1912.1 L1192.5 1915.9 L1193.6 1914 L1194.7 1908.3 L1195.7 1894.5 L1196.8 1886.4 L1197.8 1880.7 L1199 1900.7 L1200.3 1919.8 L1201.1 1914.1 L1202 1913.4 L1202.9 1912.1 L1203.8 1903.8 L1204.8 1908.2 L1205.9 1914 L1206.9 1923.3 L1208 1927.7 L1209 1918 L1210.1 1906.3 L1211.2 1896.3 L1212.2 1909.2 L1213.3 1898.6 L1214.3 1898.2 L1215.4 1907.1 L1216.4 1922.1 L1217.5 1933.3 L1218.5 1947 L1219.6 1931 L1220.7 1916.1 L1221.9 1901.2 L1222.9 1909 L1223.9 1911.9 L1224.9 1922.9 L1225.9 1924.5 L1226.9 1935.9 L1227.9 1942.1 L1228.8 1927.3 L1229.7 1918.3 L1230.6 1912.1 L1231.5 1896.5 L1232.5 1887.7 L1233.5 1886.3 L1234.5 1874.7 L1235.5 1868 L1236.4 1854 L1237.3 1844 L1238.3 1836.1 L1239.2 1820.9 L1240.1 1813.4 L1241.1 1809.5 L1242.1 1803.6 L1243.1 1797 L1244.1 1799 L1245.1 1795 L1246.1 1786 L1247.1 1782.6 L1248.1 1781.6 L1249.1 1785.2 L1250.1 1793.7 L1251.2 1797.8 L1252.2 1800.9 L1253.3 1810.3 L1254.3 1818.2 L1255.2 1825.3 L1256.1 1837.1 L1257 1844.3 L1257.9 1852.6 L1258.8 1864.8 L1259.7 1870.6 L1260.6 1879.5 L1261.6 1887.7 L1262.5 1897 L1263.4 1905.3 L1264.3 1904.2 L1265.2 1910.7 L1266.1 1911.1 L1267 1914.6 L1267.9 1921.7 L1268.8 1928.9 L1269.7 1922.9 L1270.6 1929.8 L1271.5 1937.1 L1272.4 1941.6 L1273.4 1936.6 L1274.4 1942.4 L1275.4 1933.2 L1276.4 1942.2 L1277.4 1955 L1278.4 1950.7 L1279.4 1954.8 L1280.5 1944.2 L1281.6 1947.3 L1282.6 1935.4 L1283.7 1934.7 L1284.7 1936.4 L1285.7 1927.5 L1286.7 1940.1 L1287.7 1937.6 L1288.7 1948.9 L1289.7 1942.4 L1290.8 1941.6 L1291.9 1932.6 L1293 1936 L1294.1 1927.7 L1295 1939.5 L1295.9 1932.7 L1296.8 1938.6 L1297.7 1949.6 L1298.6 1936.9 L1299.5 1938.6 L1300.4 1942.2 L1301.3 1927.8 L1302.2 1937.3 L1303.3 1942.6 L1304.4 1930.9 L1305.5 1937 L1306.6 1954.9 L1307.7 1954.4 L1308.6 1944.7 L1309.5 1953.4 L1310.4 1932.1 L1311.3 1939.1 L1312.2 1938.1 L1313.1 1928.6 L1314 1921 L1314.9 1930.3 L1315.8 1922.2 L1316.9 1925.2 L1318 1929 L1319.1 1923.3 L1320.2 1938.5 L1321.3 1946.3 L1322.2 1930.3 L1323.2 1939.2 L1324.1 1943.6 L1325.1 1946.4 L1326 1940.7 L1327 1945.3 L1327.9 1949.2 L1328.9 1947.9 L1329.8 1941.2 L1330.7 1936.6 L1331.6 1925 L1332.5 1921.5 L1333.4 1920.8 L1334.3 1922.7 L1335.2 1925.7 L1336.1 1920.4 L1337 1926.3 L1337.9 1934.5 L1338.9 1939.2 L1339.9 1926.2 L1341 1923.2 L1342 1923.2 L1343 1923.7 L1344 1911.1 L1344.9 1903.3 L1345.8 1917.5 L1346.7 1902.7 L1347.6 1902 L1348.5 1897.2 L1349.7 1912.4 L1350.9 1923.9 L1352 1926.7 L1353 1929.6 L1354 1920.9 L1355.1 1909.9 L1356.1 1915.4 L1357 1924.7 L1357.9 1920.5 L1358.8 1929.2 L1359.7 1928.7 L1360.6 1921.8 L1361.5 1938.8 L1362.5 1922.4 L1363.4 1931.4 L1364.4 1923 L1365.3 1932.5 L1366.4 1928.3 L1367.6 1919.2 L1368.7 1909.9 L1369.8 1898 L1370.8 1886.2 L1371.8 1885.5 L1372.8 1887 L1373.8 1870.4 L1374.6 1873.8 L1375.5 1866 L1376.4 1851.2 L1377.4 1845.9 L1378.3 1861.8 L1379.3 1844.7 L1380.3 1855.2 L1381.3 1859 L1382.2 1848.1 L1383.1 1859.2 L1384 1852.8 L1384.9 1861 L1385.9 1875.7 L1386.8 1871.7 L1387.8 1853.1 L1388.8 1841.1 L1389.8 1822.1 L1390.7 1812 L1391.6 1804.8 L1392.5 1795.3 L1393.4 1784.4 L1394.3 1770.5 L1395.2 1757.8 L1396.2 1749.2 L1397.1 1738.9 L1398 1725.6 L1398.9 1721.4 L1399.8 1710.6 L1400.8 1695.4 L1401.7 1694 L1402.6 1695.5 L1403.5 1689 L1404.5 1685.5 L1405.4 1686 L1406.5 1679.5 L1407.5 1690.1 L1408.6 1693.9 L1409.6 1696.3 L1410.7 1707.2 L1411.7 1722.5 L1412.7 1742.4 L1413.7 1755.8 L1414.7 1771 L1415.6 1784.1 L1416.5 1798.1 L1417.4 1810.7 L1418.3 1818.2 L1419.2 1831.2 L1420.1 1845.2 L1421 1855 L1421.9 1863.2 L1422.8 1874.3 L1423.7 1887.4 L1424.8 1890.1 L1425.9 1881.9 L1427 1905.3 L1428.1 1898.3 L1429.2 1902.8 L1430.2 1913.9 L1431.3 1912.8 L1432.3 1912.6 L1433.4 1911.4 L1434.5 1889.5 L1435.6 1886.5 L1436.8 1879.3 L1437.8 1882.2 L1438.8 1885.8 L1439.7 1887 L1440.7 1895.3 L1441.8 1909.1 L1442.8 1903 L1443.8 1891.4 L1444.8 1892.5 L1445.8 1887.6 L1446.8 1884.8 L1447.9 1887.6 L1448.9 1874.4 L1449.9 1868.3 L1451 1872.1 L1452 1870.7 L1453 1867.3 L1453.9 1860.3 L1454.9 1857.9 L1455.9 1850.8 L1456.7 1866.6 L1457.6 1883.2 L1458.5 1900.8 L1459.5 1894.2 L1460.4 1881.9 L1461.4 1878.8 L1462.4 1868.4 L1463.4 1882 L1464.4 1876.5 L1465.4 1871.6 L1466.4 1882.4 L1467.5 1882.1 L1468.5 1879.2 L1469.5 1873.7 L1470.4 1863 L1471.4 1858 L1472.4 1837.2 L1473.4 1843.8 L1474.3 1839.8 L1475.3 1846.2 L1476.3 1835 L1477.2 1827.9 L1478.2 1841.1 L1479.1 1832.6 L1480.1 1834.1 L1481 1827.3 L1481.2 1881.7 L1482.2 1879.9 L1483.1 1885.6 L1484.1 1875.7 L1485 1874.6 L1486 1871.7 L1486.9 1873.8 L1487.8 1875.5 L1488.8 1868.9 L1489.2 1837.9 L1490.2 1828.7 L1491.2 1837 L1492.2 1827.2 L1493.1 1826.3 L1494.1 1841.7 L1495 1836.3 L1496 1833.5 L1496.9 1849.3 L1497.8 1851.3 L1498.8 1846.8 L1499.8 1844.3 L1500.8 1853.1 L1501.7 1860.2 L1502.7 1868.5 L1503.7 1870.2 L1504.6 1870.7 L1505.6 1868.9 L1506.5 1874.2 L1507.5 1885.9 L1508.5 1881.6 L1509.5 1879.4 L1510.5 1897.6 L1511.5 1888.4 L1512.5 1898.1 L1513.5 1897.6 L1514.5 1902.1 L1515.5 1908.5 L1516.5 1900.8 L1517.5 1902.5 L1518.5 1891.7 L1519.5 1889.3 L1520.6 1889.5 L1521.9 1853.6 L1522.9 1868.9 L1523.9 1855.2 L1524.8 1863.8 L1525.8 1847.7 L1526.8 1856.4 L1527.8 1840.4 L1528.9 1838 L1530 1838.1 L1531.1 1840 L1532.2 1821.9 L1533.1 1840.4 L1534 1831.9 L1534.9 1847.4 L1535.9 1841.3 L1536.8 1846.3 L1537.7 1853 L1538.6 1861.8 L1539.5 1866.3 L1540.5 1872.3 L1541.4 1873.1 L1542.3 1882.4 L1543.3 1887.6 L1544.3 1889.9 L1545.3 1896.2 L1546.3 1899.7 L1547.3 1905.1 L1548.3 1907.9 L1549.3 1914.1 L1550.3 1921.7 L1551.4 1927.3 L1552.4 1932.7 L1553.4 1934 L1554.4 1940.2 L1555.4 1940.2 L1556.4 1934.5 L1557.3 1930.5 L1558.3 1929.1 L1559.3 1924.6 L1560.2 1920.6 L1561.2 1916.2 L1562.2 1912.3 L1563.2 1924.5 L1564.2 1921.7 L1565.1 1923.1 L1566.2 1898.8 L1567.2 1904.7 L1568.4 1893.8 L1569.5 1897.5 L1570.6 1908.3 L1571.7 1904.9 L1572.7 1905.9 L1573.7 1914.5 L1574.7 1905.2 L1575.7 1895.2 L1576.7 1895.8 L1577.7 1901.5 L1578.7 1914.6 L1579.6 1911.9 L1580.6 1917.6 L1581.5 1929.7 L1582.4 1932 L1583.3 1932.8 L1584.2 1930.3 L1585.1 1942.4 L1586.2 1932.7 L1587.3 1931.4 L1588.4 1925.9 L1589.5 1920.3 L1590.6 1922.3 L1591.6 1908.7 L1592.6 1918.6 L1593.7 1934.6 L1594.7 1929.3 L1595.7 1922 L1596.6 1937.9 L1597.5 1928.7 L1598.4 1925.9 L1599.3 1917.1 L1600.3 1914.1 L1601.3 1921.4 L1602.4 1927 L1603.5 1936.3 L1604.6 1940.8 L1605.6 1948.2 L1606.8 1943.3 L1607.9 1933.3 L1609 1928.6 L1610.1 1922.3 L1611.1 1918.3 L1612.1 1931.6 L1613.1 1934.7 L1614.1 1939 L1615 1936.2 L1616 1929 L1617 1918 L1618 1911.5 L1619 1908.5 L1620 1907.4 L1621 1907.6 L1622 1903.4 L1623.1 1883.9 L1624.2 1890.8 L1625.3 1897.8 L1626.4 1883.1 L1627.2 1867.9 L1627.9 1851 L1628.8 1841.1 L1629.7 1837.5 L1630.6 1849.3 L1631.5 1833 L1632.5 1838.7 L1633.4 1834.9 L1634.4 1830.6 L1635.4 1822.6 L1636.4 1819 L1637.3 1805.6 L1638.2 1810.2 L1639.1 1795.1 L1640 1788.3 L1640.9 1775.5 L1641.8 1765.2 L1642.7 1751.3 L1643.6 1741.5 L1644.6 1735.7 L1645.5 1725.9 L1646.4 1717.3 L1647.4 1712 L1648.3 1705.3 L1649.2 1696 L1650.2 1687.4 L1651.1 1698.1 L1652.1 1707.6 L1653 1715.1 L1653.9 1723.4 L1654.9 1731.5 L1655.8 1739.6 L1656.8 1764 L1657.8 1780.6 L1658.8 1798.2 L1659.8 1818.7 L1660.9 1842.4 L1661.9 1861.6 L1662.8 1875.1 L1663.8 1893.5 L1664.8 1913.1 L1665.8 1935.2 L1666.7 1923.2 L1667.6 1936.7 L1668.5 1926.6 L1669.4 1928 L1670.4 1927.4 L1671.4 1914.7 L1672.4 1908.4 L1673.5 1921.2 L1674.5 1939 L1675.5 1940.2 L1676.5 1959.2 L1677.5 1952.5 L1678.5 1959.6 L1679.5 1954.9 L1680.6 1961.3 L1681.6 1964.5 L1682.7 1956.4 L1683.8 1940.6 L1685 1950.6 L1686.1 1950.7 L1687.2 1945.2 L1688.3 1935.3 L1689.5 1934.7 L1690.6 1952.8 L1691.7 1951.4 L1692.9 1964.9 L1693.8 1970.1 L1694.8 1971.5 L1695.7 1968.2 L1696.7 1977.6 L1697.6 1979.1 L1698.6 1968 L1699.6 1968.3 L1700.7 1961.4 L1701.7 1945.5 L1702.8 1955.3 L1703.8 1939 L1704.9 1941.8 L1705.9 1942 L1707 1946.1 L1708.1 1937.2 L1709 1943.2 L1709.9 1956.4 L1710.9 1956.6 L1711.8 1951.8 L1712.8 1965.2 L1713.7 1960.7 L1714.6 1957 L1715.6 1953.2 L1716.7 1946.8 L1717.7 1939.5 L1718.7 1932.7 L1719.7 1926.5 L1720.7 1934.2 L1721.7 1927.4 L1722.7 1912.7 L1723.7 1907.4 L1724.7 1908.6 L1725.6 1903 L1726.6 1899.8 L1727.5 1891 L1728.4 1884.7 L1729.3 1876.2 L1730.3 1854.2 L1731.3 1833.5 L1732.3 1816.9 L1733.3 1794 L1734.3 1772.7 L1735.3 1745.2 L1736.2 1724.9 L1737.1 1713.2 L1738 1701.5 L1738.9 1694.5 L1739.9 1683.3 L1740.8 1665.2 L1741.7 1664.8 L1742.7 1656.5 L1743.6 1649.6 L1744.5 1650.1 L1745.5 1642.4 L1746.4 1648.4 L1747.4 1658.2 L1748.3 1667.5 L1749.2 1675.3 L1750.2 1690.2 L1751.1 1692.3 L1752.1 1720 L1753.1 1748 L1754.1 1777 L1755.1 1791.4 L1756 1805 L1756.9 1818.5 L1757.8 1831.4 L1758.8 1852.7 L1759.7 1875.9 L1760.7 1899.1 L1761.7 1925.7 L1762.6 1928.9 L1763.5 1930.9 L1764.4 1936.8 L1765.3 1946.4 L1766.2 1948.4 L1767 1935.5 L1767.8 1921.5 L1768.8 1935.7 L1769.8 1947 L1770.8 1958.8 L1771.8 1958.4 L1772.8 1963.8 L1773.7 1948.2 L1774.7 1957.6 L1775.7 1960 L1776.7 1950.4 L1777.7 1950.3 L1778.5 1962.9 L1779.4 1971.3 L1780.3 1971.4 L1781.2 1983.1 L1782.1 1991.6 L1782.9 1977.6 L1783.9 1978.1 L1784.8 1972.6 L1785.8 1971.4 L1786.7 1981.2 L1787.7 1965.9 L1788.6 1974.4 L1789.6 1975.2 L1790.5 1975.8 L1791.4 1971.5 L1792.4 1972.7 L1793.3 1987.7 L1794.3 1975.9 L1795.2 1980.1 L1796.2 1989.5 L1797.1 1992.9 L1798.1 2000.7 L1799 1995.7 L1800 1991.6 L1801 1976 L1802 1980.5 L1803 1984.2 L1804.1 1980.1 L1805.2 1983.2 L1806.2 1983.8 L1807.3 1986.5 L1808.4 2004.3 L1809.3 1979.9 L1810.2 1986.2 L1811.1 1987.8 L1812.1 1969.8 L1813 1979.5 L1814 1961.1 L1814.9 1972.6 L1815.9 1971.7 L1816.8 1964.4 L1817.8 1955.9 L1818.7 1957.1 L1819.8 1959.3 L1820.9 1961.7 L1822 1972.1 L1823.1 1971.8 L1824.2 1974.2 L1825.2 1977.6 L1826.2 1964.4 L1827.2 1967.4 L1828.2 1965.6 L1829.2 1969.8 L1830.2 1967.9 L1831.1 1972.5 L1832 1975.2 L1832.9 1987.6 L1833.8 1991 L1834.8 1995.1 L1835.7 1999.6 L1836.6 1991.4 L1837.5 1988.1 L1838.4 1982.1 L1839.3 1980.7 L1840.2 1983.4 L1841.1 1993.4 L1842 1995.7 L1842.9 1999.6 L1843.8 2004.3 L1844.8 2002.5 L1845.8 1998.9 L1846.9 1990.5 L1847.9 1990.3 L1848.9 1980 L1849.9 1976.7 L1850.8 1981.2 L1851.7 1992.1 L1852.6 1993.7 L1853.5 2002.9 L1854.4 2009.3 L1855.3 2003.1 L1856.2 1997 L1857.1 1988.2 L1858 1985.4 L1859 1989.7 L1860 1975.6 L1861 1986.6 L1862 1985.1 L1863 1974.4 L1864 1981.4 L1865 1972.4 L1865.9 1974 L1866.8 1984.7 L1867.7 1991.1 L1868.6 1995.6 L1869.5 1995.8 L1870.5 1995.9 L1871.4 2004.5 L1872.3 1989.4 L1873.2 1983.2 L1874.1 1987.7 L1875 1982.7 L1876 1984.6 L1876.9 1988 L1877.9 1988 L1878.8 1987.7 L1879.8 1995.5 L1880.7 2006.4 L1881.6 2007.4 L1882.6 1997.4 L1883.5 1987.1 L1884.4 1979.3 L1885.3 1971.5 L1886.2 1963.2 L1887.1 1970 L1888 1971.2 L1888.9 1977.2 L1889.8 1985.8 L1890.7 1991.8 L1891.7 1981.2 L1892.7 1975 L1893.8 1983.2 L1894.8 1978.8 L1895.8 1977.3 L1896.8 1973.9 L1897.7 1981.3 L1898.7 1982.7 L1899.6 1987.2 L1900.6 1993.3 L1901.5 1991 L1902.5 1999.1 L1903.4 2000.3 L1904.3 2002.3 L1905.4 1999.5 L1906.4 1995.4 L1907.4 1988.6 L1908.4 1986 L1909.4 1980.6 L1910.4 1969.4 L1911.4 1983.4 L1912.4 1969 L1913.4 1968.2 L1914.4 1979.3 L1915.4 1972.8 L1916.4 1972.2 L1917.5 1969.7 L1918.5 1974.1 L1919.5 1978.3 L1920.5 1981.3 L1921.5 1977.9 L1922.5 1975.9 L1923.5 1983.6 L1924.5 1992.9 L1925.5 1989.4 L1926.5 1983.2 L1927.5 1996.3 L1928.5 1992.6 L1929.5 1996.2 L1930.4 1999.3 L1931.3 1987.8 L1932.2 1993.9 L1933.1 1980.9 L1934 1987.7 L1934.9 1987.7 L1935.8 1998.7 L1936.7 2004.2 L1937.6 1991.6 L1938.6 1998.9 L1939.5 2006.3 L1940.5 1986 L1941.4 1989.5 L1942.4 1982.7 L1943.3 1997.2 L1944.2 1986.2 L1945.2 1982.5 L1946.1 1984.3 L1947.1 1986.8 L1948 1989.9 L1949 1998 L1949.9 2003.5 L1950.9 2004.7 L1951.8 2010.3 L1952.8 2009.4 L1953.8 2009.7 L1954.8 1997.7 L1955.8 1992.4 L1956.8 1993.3 L1957.8 1994.9 L1958.8 1997.6 L1959.8 1985.8 L1960.8 1995.1 L1961.8 2001.3 L1962.8 2000.1 L1963.8 2007.4 L1964.9 2010.1 L1965.8 1999.2 L1966.8 2013 L1967.8 2010.7 L1968.8 2023 L1969.9 2006.4 L1971.1 1982.4 L1972.1 1984.1 L1973.1 1994.8 L1974.1 1980.5 L1975.1 1988.1 L1976.1 1985.4 L1977.2 1980.5 L1978.2 1987.5 L1979.3 1990.5 L1980.3 1987.6 L1981.4 2002.2 L1982.5 2008.7 L1983.4 2003.6 L1984.3 1987.6 L1985.3 1996.6 L1986.2 1995.3 L1987.2 1983.9 L1988.3 1986.6 L1989.3 1993.6 L1990.3 1975.3 L1991.3 1974.4 L1992.3 1979.7 L1993.2 1982.9 L1994.1 1987.3 L1995 2000.2 L1995.9 2002.3 L1996.8 2007.4 L1997.8 2002.9 L1998.8 1996.6 L1999.8 2007.5 L2000.9 1996.7 L2001.9 1992.4 L2002.9 1994.7 L2003.8 2006.6 L2004.7 2005.5 L2005.6 2012 L2006.5 2007.9 L2007.4 2020.3 L2008.5 2016.2 L2009.5 2006.5 L2010.6 2008.5 L2011.6 2014.4 L2012.7 2006.2 L2013.6 2010.9 L2014.5 2011 L2015.4 2011.9 L2016.3 1997.3 L2017.2 2009.4 L2018.2 2008.1 L2019.1 2014.9 L2020.1 2022.6 L2021 2018.8 L2021.9 2017.6 L2022.8 2013.8 L2023.8 2021.6 L2024.7 2025.5 L2025.6 2017.4 L2026.5 2016.7 L2027.4 2008.1 L2028.3 2007.4 L2029.2 2006.3 L2030.1 2002.6 L2031.1 2017.4 L2032 2002.6 L2032.9 2008.5 L2033.9 2016.2 L2034.8 2011.2 L2035.8 2014.3 L2036.7 2009.7 L2037.7 2008.9" fill="none" stroke="#0070C0" stroke-width="9.0" stroke-linejoin="round" stroke-linecap="round" clip-path="url(#clipb)"/>
<g font-size="76" text-anchor="end">
<text x="319.1" y="2316.5">0</text>
<text x="319.1" y="2138.7">500</text>
<text x="319.1" y="1960.9">1000</text>
<text x="319.1" y="1783.1">1500</text>
<text x="319.1" y="1605.3">2000</text>
<text x="319.1" y="1427.5">2500</text>
</g>
<g font-size="76" text-anchor="middle">
<text x="383.1" y="2405">20</text>
<text x="852.9" y="2405">30</text>
<text x="1322.7" y="2405">40</text>
<text x="1792.5" y="2405">50</text>
</g>
<g transform="translate(1204.5 2524.1) scale(1.06 0.955)"><text x="0" y="0" font-size="82" font-weight="bold" text-anchor="middle">2θ</text></g>
<text transform="translate(126.1 1850) rotate(-90) scale(1.015 1)" font-size="82.5" font-weight="bold" text-anchor="middle">Intensity (a.u.)</text>
</g>
<g id="chart-c">
<g stroke="#000" stroke-width="7.0" fill="none">
<line x1="364.5" y1="2734.1" x2="364.5" y2="3673.9"/>
<line x1="342" y1="3651.5" x2="2047.8" y2="3651.5"/>
<line x1="342" y1="3468.7" x2="364.5" y2="3468.7"/>
<line x1="342" y1="3285.9" x2="364.5" y2="3285.9"/>
<line x1="342" y1="3103.2" x2="364.5" y2="3103.2"/>
<line x1="342" y1="2920.4" x2="364.5" y2="2920.4"/>
<line x1="342" y1="2737.6" x2="364.5" y2="2737.6"/>
<line x1="460.6" y1="3651.5" x2="460.6" y2="3668"/>
<line x1="556.8" y1="3651.5" x2="556.8" y2="3668"/>
<line x1="652.9" y1="3651.5" x2="652.9" y2="3668"/>
<line x1="749.1" y1="3651.5" x2="749.1" y2="3668"/>
<line x1="845.2" y1="3651.5" x2="845.2" y2="3673.9"/>
<line x1="941.3" y1="3651.5" x2="941.3" y2="3668"/>
<line x1="1037.5" y1="3651.5" x2="1037.5" y2="3668"/>
<line x1="1133.6" y1="3651.5" x2="1133.6" y2="3668"/>
<line x1="1229.8" y1="3651.5" x2="1229.8" y2="3668"/>
<line x1="1325.9" y1="3651.5" x2="1325.9" y2="3673.9"/>
<line x1="1422" y1="3651.5" x2="1422" y2="3668"/>
<line x1="1518.2" y1="3651.5" x2="1518.2" y2="3668"/>
<line x1="1614.3" y1="3651.5" x2="1614.3" y2="3668"/>
<line x1="1710.5" y1="3651.5" x2="1710.5" y2="3668"/>
<line x1="1806.6" y1="3651.5" x2="1806.6" y2="3673.9"/>
<line x1="1902.7" y1="3651.5" x2="1902.7" y2="3668"/>
<line x1="1998.9" y1="3651.5" x2="1998.9" y2="3668"/>
</g>
<clipPath id="clipc"><rect x="364.5" y="2697.6" width="1688.5" height="953.9"/></clipPath>
<path d="M363.6 3153.7 L364.7 3153.6 L365.7 3145.8 L366.6 3098 L367.7 3098.2 L368.7 3097.3 L369.7 3099.1 L370.8 3117.1 L371.8 3111.5 L372.8 3102.2 L373.8 3089.8 L374.7 3080.9 L375.7 3066.1 L376.7 3060.5 L377.7 3062.4 L378.7 3047.7 L379.7 3042.6 L380.7 3020.2 L381.8 2992.7 L382.7 2977.8 L383.6 2960.7 L384.5 2942.2 L385.5 2962.1 L386.5 2974.2 L387.5 2991.2 L388.4 3021.6 L389.3 3055.9 L390.1 3081 L390.8 3107 L391.8 3104.7 L392.7 3114.2 L393.6 3107.7 L394.5 3100.4 L395.4 3115 L396.3 3103.1 L397.2 3104 L398.1 3111.7 L399 3118.9 L399.9 3119.7 L400.9 3111.1 L401.9 3111.8 L402.9 3097.8 L403.9 3112.3 L404.9 3100.5 L405.9 3100.6 L406.9 3099.4 L408 3107.5 L409 3100.1 L410 3105.2 L411.1 3109.2 L412.1 3114.3 L413.1 3120.7 L414.1 3125.3 L415.2 3120.3 L416.2 3113.5 L417.2 3111.9 L418.2 3105.4 L419.2 3102.3 L420.2 3095.1 L421.2 3101.4 L422.2 3107.9 L423.1 3117.5 L424.1 3122.6 L425 3114.6 L425.9 3109.2 L426.9 3101.8 L427.8 3102.4 L428.7 3096.9 L429.9 3106.5 L431.1 3119.2 L432 3119.2 L433 3119.1 L433.9 3125.1 L434.9 3123.1 L435.8 3121.8 L436.8 3122.5 L437.7 3118.8 L438.8 3113.3 L439.9 3103 L441 3099.2 L442.1 3096.1 L443.2 3085.7 L444.1 3099.4 L445 3106.3 L445.9 3111 L446.8 3118.7 L447.7 3108.8 L448.6 3104.1 L449.5 3094.4 L450.5 3085 L451.4 3089.2 L452.4 3102.9 L453.4 3106.5 L454.4 3117.7 L455.4 3107 L456.4 3099.7 L457.3 3093.6 L458.3 3078.2 L459.3 3088.7 L460.4 3094.4 L461.4 3102.4 L462.4 3112.5 L463.5 3114.1 L464.5 3109.6 L465.5 3110.3 L466.6 3122.6 L467.6 3110.1 L468.6 3107.2 L469.8 3086.5 L471 3058.8 L471.9 3069.4 L472.8 3078.9 L473.8 3084.6 L474.7 3091.2 L475.6 3090.1 L476.5 3101.7 L477.4 3090.9 L478.3 3094.6 L479.2 3092.4 L480.1 3076 L481 3087 L481.9 3091.6 L482.8 3103.7 L483.7 3109.2 L484.6 3119.5 L485.6 3108.4 L486.5 3100.4 L487.4 3091.7 L488.3 3085.7 L489.2 3088 L490.2 3069.4 L491.2 3069.9 L492.2 3076.6 L493.2 3074.6 L494.2 3071.4 L495.2 3090.7 L496.3 3078.9 L497.3 3094.8 L498.3 3084 L499.3 3082.8 L500.4 3096.3 L501.6 3080.9 L502.8 3061.9 L503.7 3055.8 L504.6 3043.5 L505.5 3035 L506.4 3033.8 L507.3 3032 L508.2 3043.9 L509.2 3040.3 L510.1 3047.1 L511 3055 L511.9 3062.1 L512.9 3070 L513.9 3076.7 L514.8 3088.9 L515.8 3093.6 L516.7 3083.5 L517.6 3076.6 L518.5 3065 L519.4 3059.6 L520.3 3053.1 L521.3 3056.8 L522.2 3061.6 L523.1 3068.3 L524 3076.8 L524.9 3066.9 L525.8 3062 L526.7 3066.3 L527.6 3057.3 L528.5 3060.3 L529.5 3065.3 L530.5 3069.5 L531.5 3082.8 L532.5 3075.3 L533.4 3065.5 L534.3 3057.2 L535.2 3054.3 L536.1 3053.3 L537.1 3040.2 L538.1 3037.7 L539.1 3048 L540.1 3045.8 L541.1 3033.3 L542.1 3030.5 L543 3039.7 L543.9 3045 L544.9 3053.7 L545.8 3062.3 L546.7 3069.7 L547.6 3062.1 L548.5 3049.4 L549.4 3041 L550.3 3039.2 L551.2 3030.7 L552.1 3032.7 L553 3026.8 L553.9 3035.9 L554.8 3032.2 L555.7 3025.7 L556.8 3040.1 L557.8 3044.9 L558.8 3055.5 L559.8 3048.9 L560.8 3039.6 L561.8 3025.4 L562.8 3018.4 L563.8 3009.7 L564.8 3000.3 L565.7 3004.5 L566.6 3000.7 L567.5 2993.1 L568.5 2988.1 L569.5 3000.5 L570.5 3010.4 L571.5 3018.1 L572.7 3037.6 L573.9 3059.7 L574.8 3052.9 L575.7 3048.3 L576.6 3045.5 L577.5 3041.2 L578.4 3033.7 L579.3 3038.8 L580.3 3043.1 L581.2 3050.8 L582.1 3055 L583 3056.6 L583.9 3045.2 L584.8 3051.9 L585.7 3032.6 L586.6 3038.2 L587.6 3050 L588.6 3062.8 L589.6 3074.4 L590.5 3089.7 L591.5 3075.6 L592.5 3065.9 L593.5 3052.6 L594.5 3044 L595.4 3049.7 L596.3 3055.5 L597.2 3068.6 L598.1 3074.1 L599 3065.8 L599.9 3057 L600.8 3054.9 L601.7 3049 L602.6 3042.7 L603.6 3028.6 L604.5 3040 L605.4 3038.7 L606.3 3023 L607.2 3017.4 L608.4 3049.7 L609.6 3075.4 L610.7 3067.5 L611.7 3058 L612.8 3045 L613.8 3038.8 L614.8 3046.5 L615.8 3057.1 L616.8 3067.7 L617.8 3080.3 L618.7 3080.3 L619.6 3063.7 L620.5 3067.2 L621.4 3056.6 L622.3 3050.1 L623.2 3046.4 L624.1 3048.1 L625 3040 L625.9 3038.8 L626.9 3049 L627.9 3053.7 L628.9 3057.9 L629.8 3065.9 L630.8 3059.8 L631.8 3071.6 L632.8 3052.8 L633.9 3054.7 L634.9 3058.9 L635.9 3057.5 L636.9 3058.4 L637.9 3060.7 L638.9 3070.7 L639.9 3075.8 L640.9 3053.7 L641.9 3038.9 L642.9 3016 L643.8 3018.3 L644.7 3010.6 L645.6 3000.2 L646.7 3008.8 L647.8 3016 L648.9 3023.6 L649.8 3030.2 L650.8 3044.1 L651.7 3046 L652.6 3049.8 L653.5 3059.3 L654.4 3052.3 L655.3 3055.5 L656.2 3068.4 L657.4 3086.4 L658.6 3098.2 L659.5 3095.1 L660.4 3102.9 L661.3 3087.1 L662.3 3095.6 L663.2 3097.1 L664.2 3090.3 L665.2 3080.1 L666.2 3069.2 L667.1 3068.4 L668 3068.8 L668.9 3066.8 L669.8 3071.5 L670.7 3075 L671.7 3065.2 L672.7 3056.7 L673.8 3048.6 L675 3018.8 L676.2 2995.7 L677.2 2989.3 L678.3 2977.7 L679.2 2975.9 L680.1 2982.3 L681 2998.5 L681.9 2993.3 L682.8 2993.5 L683.8 3014.9 L684.8 3034 L685.9 3051.2 L687.1 3070.7 L688.3 3090.6 L689.2 3099.5 L690.1 3095.7 L691 3088.7 L691.9 3082.6 L692.9 3081.7 L693.9 3091.4 L694.9 3088.6 L695.8 3091 L696.9 3099.8 L698 3116.5 L698.9 3114.7 L699.8 3109.1 L700.7 3110.8 L701.6 3105.2 L702.5 3109.7 L703.5 3118.4 L704.5 3129 L705.5 3134.3 L706.4 3127.6 L707.3 3132 L708.2 3123 L709.2 3121.4 L710.1 3108.3 L711 3118.8 L711.9 3115.8 L712.8 3128.8 L713.7 3131.9 L714.6 3130.7 L715.8 3146.1 L717 3159.7 L718.1 3151.9 L719.1 3142.4 L720.2 3128.3 L721.3 3116.7 L722.2 3125.8 L723.2 3129.3 L724.2 3138.4 L725.2 3140.7 L726.1 3137.4 L727 3148.6 L727.9 3138.8 L728.8 3147.4 L729.7 3136.1 L730.6 3152.3 L731.5 3150.7 L732.5 3153.8 L733.4 3157 L734.3 3158.7 L735.2 3149.8 L736.1 3145.3 L737 3136.1 L737.9 3128.3 L738.8 3136.1 L739.7 3146 L740.6 3151.3 L741.5 3155.6 L742.4 3161.2 L743.5 3167.6 L744.6 3156.1 L745.7 3165.8 L746.8 3158.9 L747.9 3155.9 L748.8 3157.7 L749.8 3158.3 L750.8 3144.9 L751.7 3143.8 L752.7 3150 L753.6 3148.4 L754.6 3157.3 L755.6 3164.3 L756.6 3167.7 L757.6 3167.5 L758.6 3174 L759.6 3185 L760.6 3189.4 L761.6 3175.5 L762.6 3188.8 L763.6 3183.3 L764.6 3177.9 L765.6 3165.5 L766.6 3169.3 L767.6 3179.1 L768.6 3186.8 L769.6 3192.7 L770.6 3199.9 L771.6 3200.9 L772.6 3201.6 L773.7 3186 L774.7 3189.5 L775.7 3193.1 L776.6 3190 L777.5 3196.4 L778.4 3200.8 L779.3 3204.9 L780.4 3198 L781.5 3198 L782.6 3189.6 L783.7 3188.6 L784.8 3188.3 L785.8 3176.4 L786.8 3174.5 L787.8 3192.8 L788.8 3178.9 L789.8 3199.8 L790.8 3186 L791.8 3183.1 L792.7 3185.8 L793.6 3177.3 L794.5 3172.7 L795.4 3180.6 L796.1 3168.5 L796.9 3152.9 L797.9 3139.4 L799 3148.3 L800 3148.6 L801 3145.5 L802 3148.2 L803.3 3163.1 L804.5 3171.6 L805.4 3172.4 L806.3 3188.4 L807.2 3195.2 L808.1 3182.8 L809 3182.1 L810 3206.9 L811 3206.7 L812 3215.3 L812.9 3220.9 L813.8 3210.8 L814.8 3207.9 L815.7 3196.5 L816.6 3206.6 L817.7 3208.8 L818.7 3218.6 L819.8 3222.1 L820.9 3223 L822 3241.1 L823 3226.6 L824.1 3231.5 L825.1 3224.5 L826.1 3212.2 L827.2 3205.1 L828.2 3213.9 L829.2 3218.6 L830.2 3221.1 L831.3 3227.6 L832.3 3236.8 L833.4 3230.3 L834.5 3227.7 L835.6 3229 L836.7 3223.3 L837.7 3217.6 L838.7 3225.9 L839.6 3233.1 L840.6 3238.2 L841.5 3238.9 L842.5 3247.3 L843.5 3254.1 L844.4 3256 L845.4 3238.2 L846.4 3222 L847.4 3211.3 L848.3 3208.7 L849.2 3212.6 L850.2 3225.9 L851.1 3231.6 L852 3236.8 L853.2 3228.7 L854.4 3212.6 L855.4 3226.5 L856.4 3244.7 L857.4 3257 L858.3 3249.1 L859.2 3238.4 L860.1 3231.9 L861 3230 L862 3210.3 L862.9 3231 L863.8 3231.9 L864.7 3234.1 L865.6 3236.2 L866.5 3243.9 L867.4 3240.3 L868.3 3236.7 L869.2 3228.5 L870.1 3221.2 L871 3220.7 L871.9 3225.5 L872.8 3227.9 L873.8 3232 L874.7 3235.5 L875.6 3240.5 L876.5 3251.1 L877.4 3255 L878.3 3267.8 L879.2 3264.9 L880.1 3266.1 L881 3268.5 L881.9 3267.1 L882.8 3255.8 L883.7 3248.5 L884.6 3251.6 L885.6 3244 L886.6 3256 L887.6 3260.5 L888.6 3260.3 L889.5 3265.3 L890.4 3244.7 L891.3 3259.3 L892.2 3240.2 L893.2 3253.5 L894.1 3245.2 L895.1 3249 L896 3254.3 L897 3272.4 L897.9 3265.3 L898.9 3267.5 L900 3264.2 L901 3261.5 L902.1 3252.2 L903.2 3252.1 L904.3 3244.8 L905.3 3244.8 L906.3 3252.5 L907.3 3260.3 L908.3 3258 L909.4 3266.6 L910.4 3259.5 L911.3 3259.9 L912.2 3250.5 L913.1 3242.4 L914 3255.7 L914.9 3240.8 L916 3245.1 L917.1 3253.9 L918.2 3264.4 L919.3 3266.7 L920.3 3277.5 L921.3 3270.8 L922.2 3266.6 L923.1 3263.3 L924 3256.2 L925 3261.4 L926 3253.3 L927 3256.2 L928 3272.4 L929 3273.5 L930 3270.1 L931 3279.9 L931.9 3259.4 L932.9 3264.8 L933.8 3265.9 L934.8 3256 L935.7 3250.3 L936.6 3254.1 L937.6 3257.2 L938.6 3261.4 L939.6 3268 L940.6 3271.4 L941.6 3276.3 L942.6 3285.6 L943.6 3288.1 L944.6 3281.9 L945.5 3272.5 L946.4 3261.8 L947.3 3251.1 L948.4 3261.1 L949.5 3263.9 L950.5 3271.8 L951.6 3274.5 L952.7 3281.8 L953.7 3279.4 L954.7 3277.4 L955.7 3273.4 L956.8 3265.7 L957.8 3262.5 L958.8 3253 L959.8 3258.8 L960.8 3256.8 L961.8 3246.2 L962.8 3252.4 L963.8 3243.4 L964.8 3239.3 L965.7 3240.5 L966.6 3246.2 L967.5 3262.3 L968.5 3259.1 L969.4 3258.7 L970.4 3244 L971.4 3227.7 L972.4 3203.8 L973.3 3218.6 L974.2 3214.3 L975.1 3197.1 L976 3189.5 L976.9 3194.5 L977.8 3198 L978.7 3202.6 L979.7 3210 L980.6 3210.7 L981.5 3221.7 L982.5 3232.5 L983.5 3245.3 L984.5 3258.8 L985.5 3262.7 L986.5 3270.4 L987.5 3274.8 L988.5 3279.6 L989.5 3284.4 L990.5 3290.9 L991.5 3277 L992.5 3275.1 L993.5 3269.3 L994.5 3256.1 L995.4 3249.6 L996.3 3248.8 L997.2 3237.8 L998.1 3239.7 L999 3248.4 L999.9 3254.3 L1000.8 3261.7 L1001.7 3267.7 L1002.6 3273.9 L1003.6 3275.5 L1004.5 3256.8 L1005.4 3267.2 L1006.3 3255 L1007.2 3247.9 L1007.9 3265.9 L1008.7 3297.1 L1009.6 3287.3 L1010.6 3286.8 L1011.5 3282.9 L1012.5 3298.6 L1013.4 3285.2 L1014.4 3288.8 L1015.3 3281.9 L1016.3 3292.3 L1017.3 3280.7 L1018.3 3270.9 L1019.3 3262.2 L1020.2 3257.7 L1021.1 3257.6 L1022 3281.1 L1022.9 3281 L1023.8 3278.5 L1024.8 3285.9 L1025.8 3284 L1026.9 3295.6 L1027.9 3286.5 L1028.9 3291.6 L1029.9 3301.7 L1030.8 3296.3 L1031.7 3279 L1032.6 3290.8 L1033.5 3280.8 L1034.4 3277.8 L1035.3 3280.9 L1036.2 3270 L1037.1 3278.2 L1038 3277.9 L1039 3268.3 L1040 3282.3 L1041 3291.7 L1042 3291.6 L1043 3295 L1044 3295.9 L1045 3280.6 L1046 3285 L1047 3278.8 L1048 3271 L1049 3272.4 L1050.1 3279.1 L1051.1 3271.3 L1052 3270.3 L1052.9 3271.6 L1053.8 3281.8 L1054.7 3279.1 L1055.6 3290.2 L1056.5 3291.4 L1057.4 3296.2 L1058.3 3287.4 L1059.2 3284.6 L1060.1 3290.9 L1061.1 3288 L1062.1 3285.3 L1063.1 3279.9 L1064.1 3277 L1065.1 3283.6 L1066.1 3296.4 L1067.1 3305.3 L1068.1 3301.8 L1069.2 3283.4 L1070.2 3296.8 L1071.2 3281.1 L1072.2 3281.9 L1073.1 3280.7 L1074.1 3281.2 L1075 3282.2 L1075.9 3290.1 L1076.8 3298.8 L1077.8 3286.5 L1078.8 3273.4 L1079.9 3277.9 L1080.9 3264.3 L1081.9 3259.8 L1083 3264.6 L1084.1 3284.7 L1085.2 3279.2 L1086.3 3290.8 L1087.4 3296.6 L1088.4 3283.2 L1089.4 3276.2 L1090.4 3271.3 L1091.3 3268.4 L1092.2 3271.3 L1093.1 3272.5 L1094 3284.9 L1094.9 3290.4 L1096.1 3274 L1097.4 3249.7 L1098.3 3262.8 L1099.2 3269.4 L1100.1 3281.5 L1101 3292.5 L1101.9 3281.2 L1102.8 3278.8 L1103.7 3266 L1104.6 3257.7 L1105.7 3266.1 L1106.8 3270.5 L1107.9 3279.8 L1109 3288.1 L1110.1 3292.3 L1111 3285.9 L1111.9 3276 L1112.8 3267.2 L1113.7 3256.5 L1114.6 3253.9 L1115.6 3243 L1116.6 3235.6 L1117.6 3240.9 L1118.6 3241.2 L1119.6 3232.3 L1120.6 3226.5 L1121.6 3223.3 L1122.6 3238.1 L1123.6 3228.5 L1124.6 3234.4 L1125.7 3243.5 L1126.7 3250.2 L1127.7 3239.7 L1128.7 3243.8 L1129.7 3243.4 L1130.6 3248.3 L1131.6 3262.3 L1132.7 3262.9 L1133.7 3275.3 L1134.6 3276.7 L1135.6 3271.6 L1136.5 3263.4 L1137.5 3276.6 L1138.4 3268.6 L1139.4 3287.8 L1140.3 3280 L1141.3 3281.8 L1142.2 3277.6 L1143.2 3283.1 L1144.1 3292.1 L1145.1 3279.9 L1146 3287.9 L1147 3283.9 L1148 3277.1 L1149 3259.7 L1150 3249.9 L1150.9 3260.8 L1151.8 3247.3 L1152.7 3251.9 L1153.6 3246.9 L1154.6 3252.9 L1155.6 3260.7 L1156.5 3271.7 L1157.5 3275.4 L1158.5 3281.7 L1159.5 3293.4 L1160.5 3290 L1161.6 3294.2 L1162.6 3296.3 L1163.6 3301.1 L1164.6 3290.4 L1165.6 3286.4 L1166.6 3279.2 L1167.7 3275.6 L1168.7 3269.1 L1169.7 3269.6 L1170.6 3274.5 L1171.5 3280 L1172.4 3289.8 L1173.3 3295 L1174.2 3304.2 L1175.1 3296.3 L1176 3287.4 L1176.9 3287 L1177.8 3278.2 L1178.7 3269.8 L1179.7 3270.3 L1180.6 3267.7 L1181.6 3282 L1182.5 3269.3 L1183.5 3270.9 L1184.4 3261.6 L1185.4 3272.1 L1186.3 3269.2 L1187.2 3270.7 L1188.1 3272.2 L1189 3283.2 L1189.9 3283.4 L1190.8 3290.3 L1191.8 3293.6 L1192.8 3286.2 L1193.8 3299 L1194.8 3298.6 L1195.8 3280.5 L1196.9 3259.2 L1197.8 3262.2 L1198.7 3272.5 L1199.6 3272.3 L1200.5 3287.6 L1201.4 3288.3 L1202.6 3286.1 L1203.7 3260.9 L1204.8 3262.2 L1205.8 3271 L1206.8 3276 L1207.8 3285 L1208.7 3288.8 L1209.7 3291 L1210.7 3288.7 L1211.7 3281.9 L1212.7 3284.2 L1213.7 3273.2 L1214.7 3281.2 L1215.7 3278.1 L1216.6 3284.8 L1217.6 3279.3 L1218.5 3285.6 L1219.5 3277 L1220.5 3286.3 L1221.6 3283.2 L1222.7 3277.9 L1223.8 3267.4 L1225 3259.6 L1226 3272.1 L1227 3285.4 L1228 3292.8 L1228.9 3284.1 L1229.8 3278.9 L1230.7 3268.3 L1231.6 3258.7 L1232.5 3253.5 L1233.5 3239.1 L1234.5 3231.5 L1235.5 3217.8 L1236.5 3193.1 L1237.5 3174.2 L1238.5 3155.8 L1239.5 3127.9 L1240.5 3118 L1241.4 3108.9 L1242.4 3089.3 L1243.4 3080.2 L1244.3 3072 L1245.3 3063.8 L1246.2 3059.6 L1247.1 3057.5 L1248 3051.4 L1249 3056.3 L1249.9 3069.1 L1250.8 3075.5 L1251.7 3083.5 L1252.6 3093.2 L1253.6 3101.1 L1254.6 3122 L1255.6 3141.8 L1256.6 3160.7 L1257.6 3176.3 L1258.6 3199.1 L1259.6 3212.6 L1260.5 3226.5 L1261.4 3235.2 L1262.3 3246.3 L1263.2 3257.6 L1264.2 3269.3 L1265.1 3274.3 L1266 3263.9 L1266.9 3279.9 L1267.8 3273.6 L1268.7 3290.3 L1269.6 3283.9 L1270.5 3286.4 L1271.4 3299.6 L1272.3 3300.7 L1273.2 3306.1 L1274.4 3304 L1275.5 3285.9 L1276.7 3285.5 L1277.6 3288.2 L1278.4 3294.7 L1279.3 3303.3 L1280.2 3303.2 L1281.2 3306 L1282.2 3304.6 L1283.2 3297.1 L1284.2 3298.1 L1285.2 3294.8 L1286.2 3287.4 L1287.3 3291.8 L1288.3 3287.7 L1289.2 3297.5 L1290.1 3305 L1291 3312.9 L1292 3305.1 L1293.1 3303.6 L1294.2 3308.4 L1295.2 3295.6 L1296.2 3289.3 L1297.3 3296.7 L1298.3 3296.1 L1299.3 3297.8 L1300.3 3301.7 L1301.3 3309.2 L1302.3 3302.2 L1303.3 3310.5 L1304.3 3315.5 L1305.3 3320.1 L1306.3 3310.3 L1307.3 3312.3 L1308.3 3314.9 L1309.4 3315 L1310.4 3301.7 L1311.4 3310.1 L1312.4 3295.8 L1313.4 3303.4 L1314.3 3301.7 L1315.2 3304.5 L1316.1 3290.3 L1317 3298.1 L1317.9 3298.8 L1318.9 3294.7 L1319.9 3287.8 L1320.9 3278.6 L1321.9 3283.7 L1322.9 3300.6 L1324 3317 L1324.9 3304.5 L1325.8 3313.7 L1326.7 3309.4 L1327.6 3292.9 L1328.5 3298.5 L1329.5 3297.5 L1330.5 3291.8 L1331.5 3297.4 L1332.6 3301.2 L1333.6 3302.5 L1334.6 3301.9 L1335.6 3292.9 L1336.6 3306.3 L1337.6 3285.1 L1338.6 3287.4 L1339.6 3298.6 L1340.6 3289.9 L1341.7 3296.3 L1342.8 3295.4 L1343.9 3304.3 L1345 3308.8 L1346 3304.7 L1347 3296.8 L1348 3291.1 L1349 3286.8 L1350 3283.8 L1351 3280.4 L1352 3267.3 L1352.9 3276 L1353.9 3284.9 L1354.9 3278.4 L1355.9 3272.7 L1356.8 3281.7 L1357.7 3294.5 L1358.7 3303.1 L1359.6 3308.8 L1360.5 3302.6 L1361.4 3293.7 L1362.3 3290.9 L1363.2 3286.3 L1364.1 3273.7 L1365.1 3285.5 L1366.2 3277.9 L1367.2 3280.8 L1368.2 3281 L1369.2 3287.3 L1370.2 3288.2 L1371.1 3279.3 L1372 3269.2 L1372.9 3266 L1373.8 3255.9 L1374.7 3253.7 L1375.6 3246.9 L1376.5 3236.4 L1377.5 3227.3 L1378.4 3220.7 L1379.2 3209.8 L1380.1 3197.9 L1381 3193 L1381.9 3185.9 L1382.9 3172.5 L1383.8 3172.5 L1384.9 3179.1 L1385.9 3186.6 L1387 3190.4 L1388 3195 L1389.1 3204.9 L1390.2 3210.9 L1391.2 3216.1 L1392.2 3206.9 L1393.1 3190.9 L1394 3181.8 L1395 3169.1 L1395.9 3159.9 L1396.7 3224.3 L1397.8 3165.1 L1398.9 3098.9 L1399.9 3077.5 L1401 3063.8 L1402 3038.7 L1402.9 3031 L1403.8 3021.4 L1404.8 3009.1 L1405.7 2997.7 L1406.6 2977.8 L1407.6 2985 L1408.6 2978.7 L1409.6 2974.7 L1410.7 2982.7 L1411.7 2994.6 L1412.7 3007.4 L1413.8 3012.1 L1414.8 3025.7 L1415.8 3054.4 L1416.8 3088.3 L1417.9 3112.8 L1418.9 3142.9 L1419.9 3167.3 L1420.9 3191.4 L1421.9 3212.4 L1422.9 3226.8 L1423.9 3245.5 L1424.9 3241.5 L1426 3245.8 L1427 3246.5 L1428 3250.2 L1429.1 3248.8 L1430.1 3266.3 L1431.1 3271.9 L1432.1 3277.5 L1433.1 3269.1 L1434 3272.6 L1435 3261.8 L1436 3262.6 L1437 3253.7 L1438 3254.9 L1439 3252.4 L1440 3264.2 L1441 3260.5 L1442 3279.7 L1443 3266.8 L1444 3275.5 L1444.9 3285 L1445.9 3277.1 L1446.9 3282.6 L1447.9 3267.7 L1449 3259.5 L1450.1 3246.8 L1451 3249.4 L1451.9 3261.6 L1452.9 3259.7 L1453.8 3266.5 L1454.8 3255.5 L1455.8 3268.4 L1456.8 3268.5 L1457.8 3256.2 L1458.8 3251.5 L1459.8 3239.3 L1460.8 3233.6 L1461.7 3243 L1462.7 3252.5 L1463.6 3251.8 L1464.6 3254.9 L1465.5 3266 L1466.4 3254.3 L1467.3 3249 L1468.2 3253.8 L1469.2 3261.7 L1470.2 3265 L1471.1 3271.6 L1472.1 3273.3 L1473.1 3281.5 L1474 3269.3 L1474.8 3259.1 L1475.7 3251.3 L1476.6 3236.9 L1477.6 3248.3 L1478.6 3255.1 L1479.6 3265.5 L1480.6 3260.9 L1481.6 3261.2 L1482.6 3266.8 L1483.7 3270.6 L1484.7 3261.3 L1485.7 3266 L1486.7 3259.1 L1487.6 3258.6 L1488.6 3248.4 L1489.5 3245 L1490.5 3241.4 L1491.5 3235.4 L1492.4 3240 L1493.3 3224.2 L1494.3 3225 L1495.2 3215.5 L1496.1 3214 L1497.2 3214.6 L1498.2 3222.4 L1499.3 3233.5 L1500.3 3237.5 L1501.4 3245.6 L1502.3 3212.9 L1503.3 3217 L1504.2 3224.4 L1505.2 3224.7 L1506.2 3230.8 L1507.1 3233 L1508.1 3240.2 L1509.1 3241.8 L1510 3240.3 L1511 3264.3 L1511.9 3259.5 L1512.9 3271.7 L1513.9 3265.5 L1514.9 3251.7 L1515.9 3266.5 L1516.9 3257 L1517.9 3265.2 L1518.9 3254.6 L1519.9 3260.2 L1520.9 3264.6 L1521.8 3272.2 L1522.8 3276.4 L1523.8 3279 L1524.7 3262.1 L1525.7 3248 L1526.6 3236.3 L1527.4 3268.9 L1528.5 3231.8 L1529.6 3198.2 L1530.7 3196.1 L1531.8 3188 L1532.9 3179.7 L1534 3171 L1534.9 3179.6 L1535.8 3167.2 L1536.7 3167.9 L1537.6 3164.8 L1538.5 3154.2 L1539.5 3163.5 L1540.5 3169.8 L1541.6 3170.4 L1542.6 3178.9 L1543.6 3176.1 L1544.7 3199.3 L1545.8 3189.9 L1546.9 3211.6 L1548 3211.2 L1548.9 3227.6 L1549.8 3243.6 L1550.7 3255.7 L1551.6 3260.9 L1552.6 3266.4 L1553.7 3272.9 L1554.7 3269.8 L1555.7 3288.6 L1556.7 3283.8 L1557.7 3279.7 L1558.8 3291.4 L1559.8 3288.5 L1560.8 3283.3 L1561.8 3293.8 L1562.8 3282 L1563.8 3281.8 L1564.8 3291.4 L1565.8 3289.2 L1566.8 3289.5 L1567.8 3278.8 L1568.8 3283.9 L1569.8 3284 L1570.9 3289.4 L1572 3276.5 L1573.1 3274 L1574.2 3283 L1575.2 3280.1 L1576.2 3274.3 L1577.2 3285.4 L1578.3 3296 L1579.3 3288 L1580.1 3277.8 L1581 3269.5 L1581.9 3260.2 L1582.8 3244.6 L1583.8 3258.3 L1584.8 3273.8 L1585.9 3283.7 L1586.9 3290.3 L1588 3291.1 L1589.1 3299.6 L1590.2 3301.4 L1591.3 3305.2 L1592.4 3298.1 L1593.3 3294.4 L1594.2 3296.5 L1595.1 3282.4 L1596 3282.1 L1596.9 3282.3 L1597.8 3291.2 L1598.7 3296 L1599.6 3303.3 L1600.5 3304.5 L1601.4 3314.7 L1602.3 3300.4 L1603.2 3289.3 L1604 3276.7 L1604.9 3266.4 L1606 3278 L1607.1 3290.3 L1608.1 3298.3 L1609.2 3298.1 L1610.2 3293.1 L1611.2 3289.4 L1612.2 3277.4 L1613.2 3298 L1614.1 3286 L1615.1 3306.4 L1616.1 3305.3 L1617 3314.5 L1618 3305 L1619 3295 L1620 3282.8 L1621 3281.9 L1622.1 3292.4 L1623.2 3294.4 L1624.3 3293.5 L1625.4 3303.7 L1626.5 3303.4 L1627.4 3300.5 L1628.3 3292 L1629.2 3283.2 L1630.1 3280.8 L1631.2 3268.9 L1632.3 3261.7 L1633.4 3253.9 L1634.5 3268.3 L1635.5 3257.2 L1636.5 3243.4 L1637.4 3231.2 L1638.3 3217.5 L1639.2 3206.5 L1640.1 3205.9 L1641.1 3195.9 L1642.1 3193.3 L1643 3189.2 L1644 3190.8 L1644.9 3181.8 L1645.8 3186.2 L1646.7 3185.6 L1647.6 3190.6 L1648.9 3164.1 L1650.1 3134.4 L1651.1 3089.1 L1652.2 3040 L1653.1 3023.9 L1654.1 3004.5 L1655.1 2983.6 L1656 2956.8 L1657.1 2961.1 L1658.1 2947.8 L1659.1 2943.2 L1660.1 2941.2 L1661.1 2946.2 L1662 2955.5 L1662.9 2964.9 L1663.8 2970.2 L1664.8 2979.1 L1666 3016.5 L1667.2 3058.8 L1668.2 3082.2 L1669.2 3110.3 L1670.2 3132.2 L1671.2 3173 L1672.2 3209.9 L1673.2 3251.6 L1674.1 3251.3 L1675 3252.6 L1676 3262.5 L1676.9 3252.5 L1677.8 3259.3 L1678.8 3271.5 L1679.8 3274.8 L1680.8 3278.3 L1681.7 3284.8 L1682.6 3288.5 L1683.5 3281.4 L1684.4 3292.5 L1685.3 3301 L1686.4 3293.6 L1687.5 3280.2 L1688.5 3281.5 L1689.6 3282.8 L1690.5 3290.1 L1691.4 3305.2 L1692.3 3308 L1693.3 3304.4 L1694.3 3307.7 L1695.2 3296.8 L1696.2 3290.1 L1697.2 3291.9 L1698.2 3305.8 L1699.2 3302.6 L1700.1 3306.5 L1701 3314.6 L1702 3322 L1702.9 3307.6 L1703.9 3317.3 L1705 3324.5 L1706.2 3312.6 L1707.3 3313.2 L1708.3 3300.7 L1709.4 3303.3 L1710.4 3297.2 L1711.4 3297.6 L1712.4 3308.8 L1713.4 3301.8 L1714.3 3302.6 L1715.3 3304.8 L1716.3 3311.6 L1717.2 3313.4 L1718.2 3314.6 L1719.1 3302.7 L1720 3313.7 L1720.9 3308.5 L1721.8 3293.5 L1722.8 3293.4 L1723.8 3298.8 L1724.7 3292.2 L1725.7 3285.3 L1726.7 3281.8 L1727.6 3292.8 L1728.5 3292.7 L1729.4 3303.5 L1730.3 3296.7 L1731.2 3289.8 L1732.1 3281.7 L1733 3278.3 L1734 3279.4 L1734.9 3267.8 L1735.9 3272 L1736.9 3266.5 L1737.9 3249.9 L1738.9 3238.1 L1739.9 3220.2 L1740.9 3200.2 L1742 3180.5 L1743 3164.2 L1744 3122.4 L1745 3085.8 L1746 3038.7 L1747 2998.4 L1748 2958 L1749 2921.2 L1750 2904.4 L1751 2886.6 L1752 2863.2 L1753 2844.6 L1753.9 2835.2 L1754.8 2830.9 L1755.7 2830.8 L1756.7 2822.7 L1757.6 2835.6 L1758.6 2844 L1759.6 2855.9 L1760.6 2862.4 L1761.6 2875 L1762.6 2910 L1763.6 2944.6 L1764.6 2979.8 L1765.6 3023.6 L1766.6 3064 L1767.6 3104.3 L1768.6 3130 L1769.6 3163.1 L1770.7 3193.3 L1771.7 3219 L1772.7 3249.1 L1773.7 3275.8 L1774.7 3276.2 L1775.6 3276.2 L1776.6 3282.5 L1777.6 3286.8 L1778.6 3300.8 L1779.6 3292.3 L1780.6 3298 L1781.6 3300.6 L1782.6 3286.6 L1783.5 3295.2 L1784.5 3288.3 L1785.4 3302.8 L1786.4 3315 L1787.5 3310.9 L1788.5 3307.9 L1789.6 3303 L1790.7 3302.4 L1791.8 3303.3 L1792.8 3317.2 L1793.9 3310.6 L1795 3318.4 L1796.1 3328.3 L1797.2 3330.6 L1798.3 3328.9 L1799.4 3314.5 L1800.4 3332.4 L1801.5 3312.1 L1802.6 3324.2 L1803.6 3314.1 L1804.5 3323.9 L1805.4 3316.2 L1806.3 3313.8 L1807.2 3315.6 L1808.3 3319.9 L1809.4 3328.6 L1810.5 3330.9 L1811.5 3335.4 L1812.6 3345.5 L1813.5 3327.2 L1814.4 3328.9 L1815.4 3326.1 L1816.3 3316.8 L1817.2 3316.4 L1818.2 3318.5 L1819.2 3320.5 L1820.3 3328.8 L1821.3 3326.2 L1822.3 3324 L1823.3 3334.1 L1824.3 3325.6 L1825.3 3321.9 L1826.3 3312.9 L1827.4 3308 L1828.4 3323.5 L1829.4 3313.2 L1830.4 3320.1 L1831.4 3325.3 L1832.4 3322.1 L1833.4 3316.9 L1834.4 3334.6 L1835.3 3325.4 L1836.2 3314.2 L1837.1 3326.2 L1838 3327.3 L1839 3318.8 L1840 3327.3 L1841 3319.5 L1842 3323.2 L1843 3332 L1844 3337.1 L1845 3340.6 L1846 3326.9 L1847 3336.9 L1848 3335.9 L1849 3332.9 L1850.1 3329.6 L1851.1 3325.6 L1852.1 3336.1 L1853.1 3348 L1854.1 3353.9 L1855 3350.5 L1855.9 3339.5 L1856.8 3334.1 L1857.7 3333.9 L1858.6 3325.2 L1859.5 3329.2 L1860.4 3337.3 L1861.3 3341.6 L1862.3 3351.5 L1863.2 3356.9 L1864.1 3346.6 L1865.1 3339.7 L1866.1 3330.3 L1867.1 3320.4 L1868.2 3333.2 L1869.2 3338.4 L1870.3 3348 L1871.3 3351.6 L1872.3 3350.1 L1873.3 3342.8 L1874.2 3337.7 L1875.2 3346.4 L1876.2 3341.8 L1877.2 3343.4 L1878.2 3337.7 L1879.3 3345.5 L1880.3 3356.3 L1881.3 3344.1 L1882.2 3351.2 L1883.1 3349.1 L1884 3350.1 L1884.9 3353.6 L1885.9 3334.4 L1886.9 3340.1 L1887.9 3324.1 L1888.9 3319.9 L1889.8 3333.3 L1890.7 3344.8 L1891.6 3329.5 L1892.5 3345.5 L1893.4 3347.3 L1894.3 3339.7 L1895.2 3345.3 L1896.1 3341.5 L1897 3329.3 L1898 3326.8 L1899 3322.6 L1900 3328.8 L1901 3340.6 L1902 3329.4 L1903 3337.1 L1904 3335.6 L1905 3337.7 L1906 3333.8 L1907 3326.3 L1908 3322.9 L1909.1 3336.4 L1910.1 3331.9 L1911 3328.9 L1911.9 3330.7 L1912.8 3343.7 L1913.7 3345 L1914.6 3346.7 L1915.6 3335.8 L1916.6 3345.8 L1917.5 3327.8 L1918.5 3329.5 L1919.6 3325.1 L1920.6 3322.6 L1921.6 3328.5 L1922.6 3338.8 L1923.7 3337.3 L1924.6 3345.6 L1925.6 3338.7 L1926.5 3338.1 L1927.5 3333.8 L1928.4 3331.7 L1929.3 3331.4 L1930.3 3324.9 L1931.2 3332.8 L1932.1 3324.2 L1933.1 3329.7 L1934 3324.3 L1934.9 3329.7 L1935.8 3324 L1936.8 3319 L1937.7 3319.3 L1938.7 3306.3 L1939.7 3316 L1940.8 3312.6 L1941.8 3325.7 L1942.8 3330.7 L1943.9 3326.6 L1944.8 3336.6 L1945.7 3344.1 L1946.6 3345.3 L1947.5 3350.1 L1948.4 3366.8 L1949.4 3361.6 L1950.4 3357.2 L1951.4 3361.6 L1952.4 3344.5 L1953.5 3356.8 L1954.5 3343.4 L1955.5 3344.5 L1956.6 3354.8 L1957.7 3339.9 L1958.8 3348.6 L1959.8 3346.2 L1960.8 3344.8 L1961.8 3359.1 L1962.8 3356.1 L1963.8 3371 L1964.7 3361.3 L1965.7 3365.2 L1966.6 3361.1 L1967.5 3368.1 L1968.6 3360 L1969.6 3356.2 L1970.5 3357.4 L1971.5 3340.6 L1972.4 3342.8 L1973.3 3340.3 L1974.3 3343 L1975.3 3352.7 L1976.2 3360.6 L1977.2 3369.1 L1978.3 3358.1 L1979.3 3370.1 L1980.4 3371.3 L1981.5 3357.5 L1982.5 3349.9 L1983.5 3351.2 L1984.4 3340 L1985.4 3348.5 L1986.3 3352.1 L1987.2 3355 L1988.1 3347.1 L1989 3343.3 L1989.9 3353.8 L1990.8 3348.9 L1991.7 3352 L1992.6 3346.3 L1993.5 3336.5 L1994.4 3334.9 L1995.5 3335.6 L1996.6 3314.3 L1997.7 3324.4 L1998.8 3314.8 L1999.8 3305.3 L2001 3302.3 L2002.1 3295.9 L2003.2 3312.3 L2004.2 3315.4 L2005.2 3315.7 L2006.3 3315.8 L2007.4 3329.5 L2008.5 3335.6 L2009.6 3338.5 L2010.7 3364.3 L2011.9 3369.9 L2012.8 3363.7 L2013.8 3357.9 L2014.7 3347.3 L2015.7 3344.5 L2016.7 3337 L2017.7 3341 L2018.7 3347.6 L2019.7 3349.4 L2020.7 3368.3 L2021.7 3366 L2022.6 3359.1 L2023.5 3370.4 L2024.4 3368.4 L2025.3 3372.9 L2026.3 3366.7 L2027.2 3371.6 L2028.1 3361.2 L2029 3348.4 L2030 3353.2 L2030.9 3365.8 L2031.8 3359.9 L2032.8 3359.9 L2033.7 3366.4 L2034.7 3355.1 L2035.7 3366.6 L2036.8 3356.1 L2037.9 3366.6 L2039 3367.1 L2040.1 3358.1 L2041.1 3346.8 L2042.1 3350.9 L2043 3349.4 L2043.9 3355.9 L2044.8 3354 L2045.8 3351.5 L2046.9 3351.5 L2048 3355.1 L2049 3356.8 L2050 3365.6 L2051.1 3364.2 L2052.1 3367.5 L2053.1 3357.4 L2054.2 3359 L2055.2 3363 L2056.3 3364.1 L2057.3 3355.6" fill="none" stroke="#4472C4" stroke-width="8.6" stroke-linejoin="round" stroke-linecap="round" clip-path="url(#clipc)"/>
<g font-size="76" text-anchor="end">
<text x="300" y="3674.5">0</text>
<text x="300" y="3491.7">500</text>
<text x="300" y="3308.9">1000</text>
<text x="300" y="3126.2">1500</text>
<text x="300" y="2943.4">2000</text>
<text x="300" y="2760.6">2500</text>
</g>
<g font-size="76" text-anchor="middle">
<text x="364" y="3763">20</text>
<text x="844.7" y="3763">30</text>
<text x="1325.4" y="3763">40</text>
<text x="1806.1" y="3763">50</text>
</g>
<g transform="translate(1204.5 3882.1) scale(1.06 0.955)"><text x="0" y="0" font-size="82" font-weight="bold" text-anchor="middle">2θ</text></g>
<text transform="translate(107 3195.6) rotate(-90) scale(1.015 1)" font-size="82.5" font-weight="bold" text-anchor="middle">Intensity (a.u.)</text>
</g>
<text font-size="84"><tspan x="391.3" y="143.5">Ni</tspan><tspan x="477.8" y="163.1" font-size="56">12</tspan><tspan x="528.9" y="143.5">P</tspan><tspan x="578.4" y="163.1" font-size="56">5</tspan><tspan x="627.1" y="144.5" font-size="85.5" textLength="37.4" lengthAdjust="spacingAndGlyphs" stroke="#fff" stroke-width="2.4">◊</tspan><tspan x="710.8" y="143.5">Ni</tspan><tspan x="791.6" y="163.1" font-size="56">3</tspan><tspan x="820" y="143.5">P</tspan><tspan x="887" y="144.3" font-size="87" stroke="#fff" stroke-width="1.6">○</tspan><tspan x="978.3" y="143.5">Ni</tspan><tspan x="1061.9" y="143.5">O</tspan><tspan x="1122.6" y="143.5">Δ</tspan><tspan x="1214.2" y="143.5">Ni</tspan><tspan x="1298.3" y="143.5">●</tspan></text>
<text font-size="84"><tspan x="384.3" y="1457.8">Ni</tspan><tspan x="468.3" y="1477.4" font-size="56">12</tspan><tspan x="521.8" y="1457.8">P</tspan><tspan x="569.9" y="1477.4" font-size="56">5</tspan><tspan x="619.8" y="1458.8" font-size="85.5" textLength="37.4" lengthAdjust="spacingAndGlyphs" stroke="#fff" stroke-width="2.4">◊</tspan><tspan x="701.9" y="1457.8">Ni</tspan><tspan x="784.7" y="1477.4" font-size="56">3</tspan><tspan x="812.4" y="1457.8">P</tspan><tspan x="878.9" y="1458.6" font-size="87" stroke="#fff" stroke-width="1.6">○</tspan><tspan x="969.4" y="1457.8">Ni</tspan><tspan x="1054.4" y="1457.8">●</tspan></text>
<text font-size="84"><tspan x="393.5" y="2814.1">Ni</tspan><tspan x="478.3" y="2833.7" font-size="56">12</tspan><tspan x="531.8" y="2814.1">P</tspan><tspan x="579.9" y="2833.7" font-size="56">5</tspan><tspan x="608.5" y="2815.1" font-size="85.5" textLength="37.4" lengthAdjust="spacingAndGlyphs" stroke="#fff" stroke-width="2.4">◊</tspan><tspan x="689" y="2814.1">Ni</tspan><tspan x="773.8" y="2833.7" font-size="56">3</tspan><tspan x="800.9" y="2814.1">P</tspan><tspan x="847.9" y="2814.9" font-size="87" stroke="#fff" stroke-width="1.6">○</tspan><tspan x="937" y="2814.1">Ni</tspan><tspan x="1022.3" y="2814.1">●</tspan></text>
<text x="2055" y="79" font-size="86">a</text>
<text x="2038" y="1423.7" font-size="86">b</text>
<text x="2036" y="2754.7" font-size="86">c</text>
<g id="markers-a">
<path d="M1406.4 540.1 L1412.4 540.1 L1434.85 580.5 L1412.4 620.9 L1406.4 620.9 L1383.95 580.5Z M1409.4 544.3 L1388.95 580.5 L1409.4 616.7 L1429.85 580.5Z" fill="#000" fill-rule="evenodd"/>
<g transform="translate(1477.1 608.7) scale(0.9142 1)"><text class="sans" x="-2.75" y="0" font-size="91.57" font-weight="normal">Δ</text></g>
<circle cx="1600.3" cy="640.9" r="25" fill="#000"/>
<circle cx="1666.4" cy="625.4" r="23.25" fill="none" stroke="#000" stroke-width="4.9"/>
</g><g id="markers-b">
<path d="M987.8 1756.95 L994.3 1756.95 L1013.1 1792 L994.3 1827.05 L987.8 1827.05 L969 1792Z M991.05 1760.95 L973.95 1792 L991.05 1823.05 L1008.15 1792Z" fill="#000" fill-rule="evenodd"/>
<path d="M1242.2 1613.1 L1253 1613.1 L1273.1 1651 L1253 1688.9 L1242.2 1688.9 L1222.1 1651Z M1247.6 1622.3 L1232.1 1651 L1247.6 1679.7 L1263.1 1651Z" fill="#000" fill-rule="evenodd"/>
<path d="M1400.1 1529 L1410.9 1529 L1431 1566.9 L1410.9 1604.8 L1400.1 1604.8 L1380 1566.9Z M1405.5 1538.2 L1390 1566.9 L1405.5 1595.6 L1421 1566.9Z" fill="#000" fill-rule="evenodd"/>
<path d="M1770.1 1543.1 L1780.9 1543.1 L1801 1581 L1780.9 1618.9 L1770.1 1618.9 L1750 1581Z M1775.5 1552.3 L1760 1581 L1775.5 1609.7 L1791 1581Z" fill="#000" fill-rule="evenodd"/>
<circle cx="1556.2" cy="1784.3" r="21.65" fill="#000"/>
<g transform="translate(1646.6 1653.08) scale(0.9088 1)"><text class="sans" x="-4.31" y="0" font-size="91.67" font-weight="normal">O</text></g>
</g><g id="markers-c">
<path d="M970.3 3036.9 L981.1 3036.9 L1001.2 3074.8 L981.1 3112.7 L970.3 3112.7 L950.2 3074.8Z M975.7 3046.1 L960.2 3074.8 L975.7 3103.5 L991.2 3074.8Z" fill="#000" fill-rule="evenodd"/>
<path d="M1269 2958.9 L1279.8 2958.9 L1299.9 2996.8 L1279.8 3034.7 L1269 3034.7 L1248.9 2996.8Z M1274.4 2968.1 L1258.9 2996.8 L1274.4 3025.5 L1289.9 2996.8Z" fill="#000" fill-rule="evenodd"/>
<path d="M1429.4 2875 L1440.2 2875 L1460.3 2912.9 L1440.2 2950.8 L1429.4 2950.8 L1409.3 2912.9Z M1434.8 2884.2 L1419.3 2912.9 L1434.8 2941.6 L1450.3 2912.9Z" fill="#000" fill-rule="evenodd"/>
<path d="M1779.2 2733.1 L1790 2733.1 L1810.1 2771 L1790 2808.9 L1779.2 2808.9 L1759.1 2771Z M1784.6 2742.3 L1769.1 2771 L1784.6 2799.7 L1800.1 2771Z" fill="#000" fill-rule="evenodd"/>
<circle cx="1563.7" cy="3083" r="25" fill="#000"/>
<circle cx="1687" cy="2896.2" r="25" fill="none" stroke="#000" stroke-width="8"/>
</g>
</svg>
</body></html>
